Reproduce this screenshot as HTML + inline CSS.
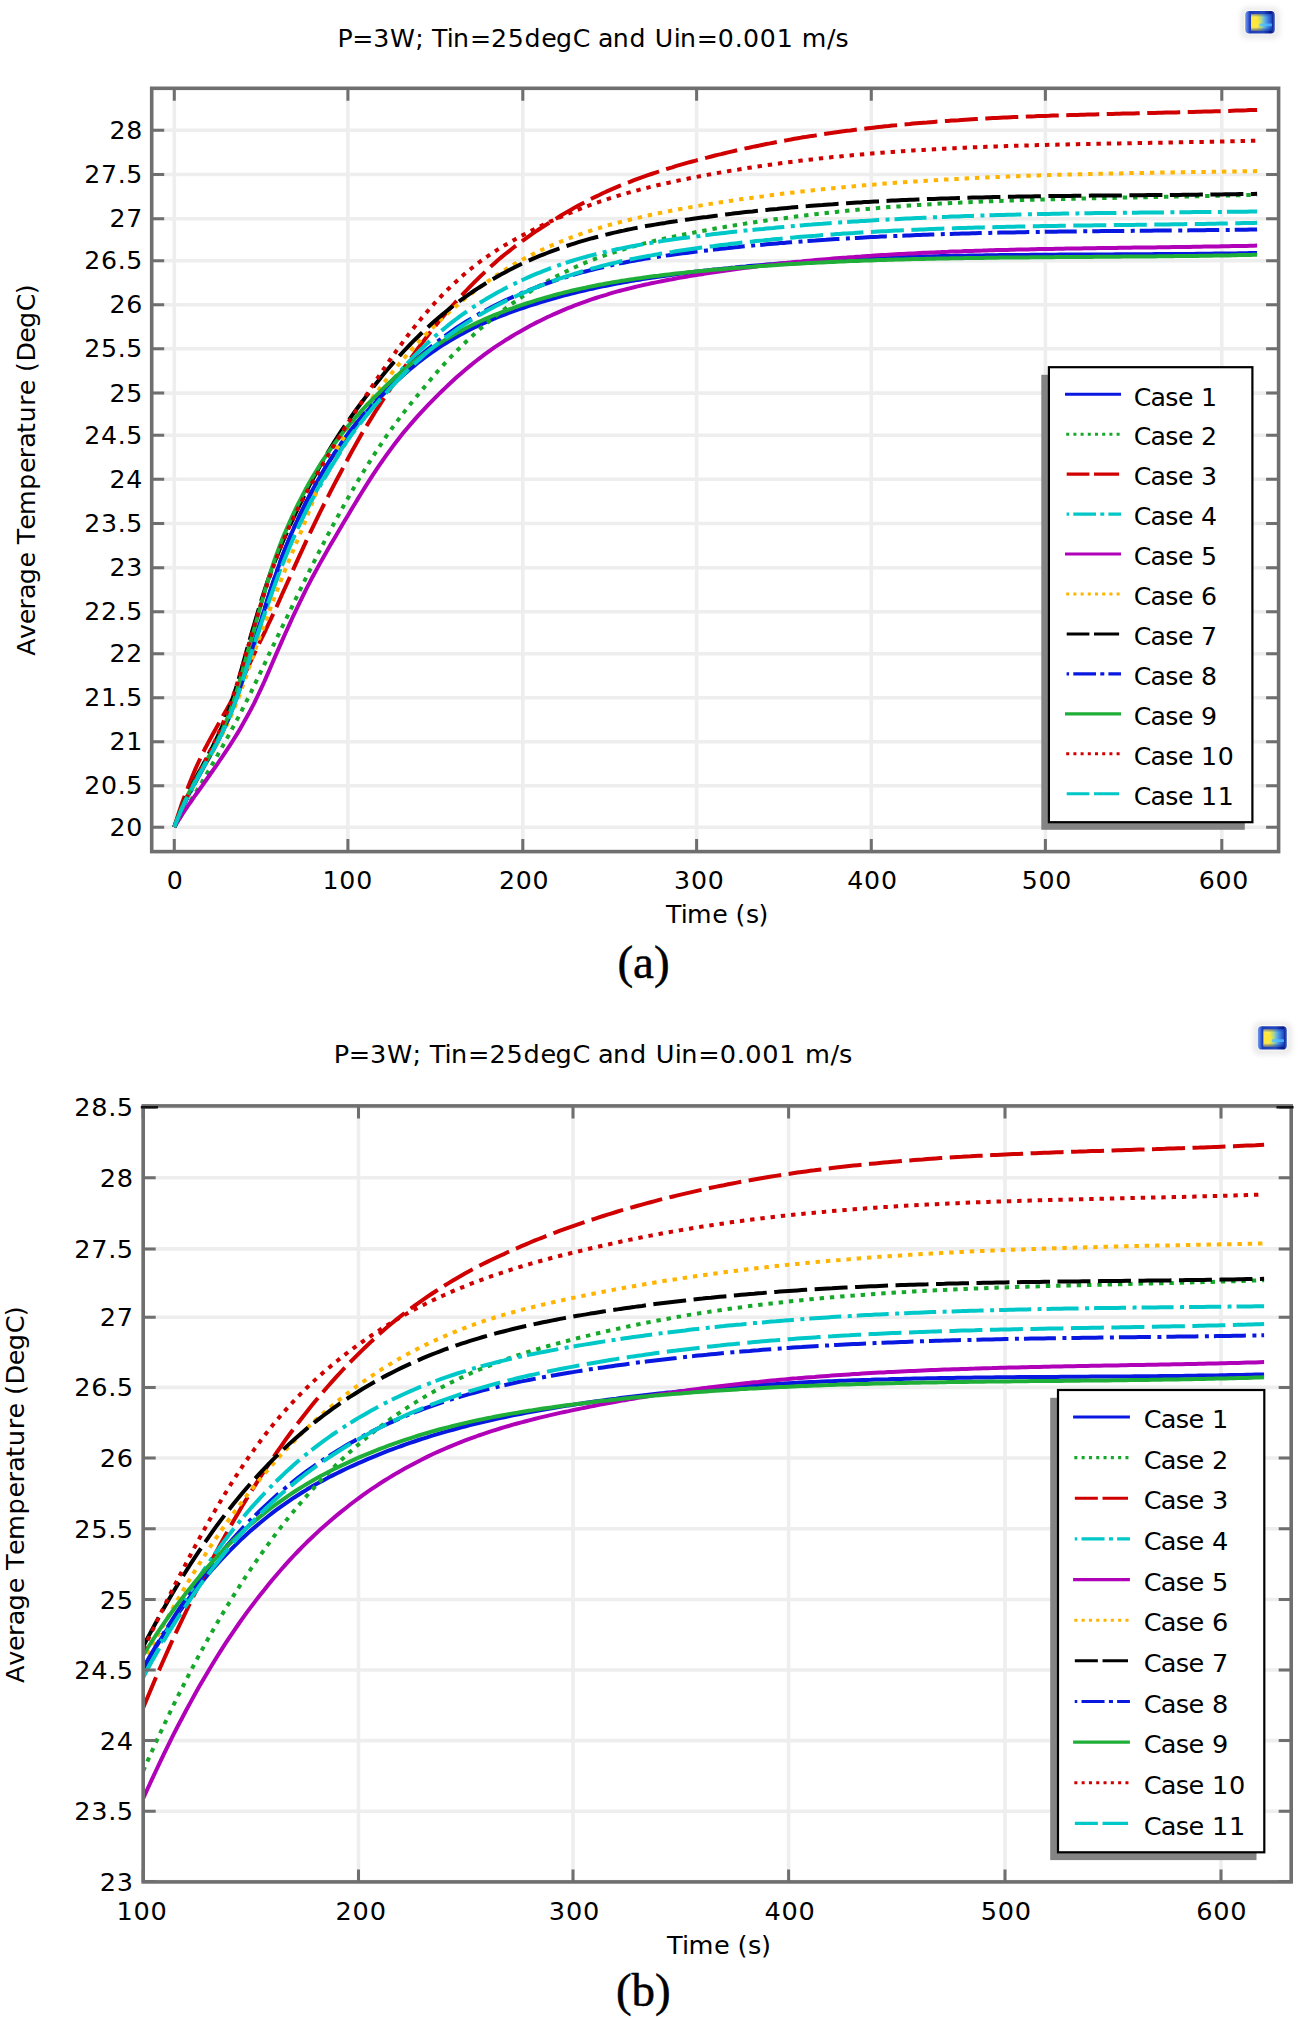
<!DOCTYPE html>
<html><head><meta charset="utf-8"><title>Average Temperature vs Time</title>
<style>html,body{margin:0;padding:0;background:#fff;overflow:hidden;}svg{display:block;}</style>
</head><body>
<svg width="1298" height="2019" viewBox="0 0 1298 2019">
<rect width="1298" height="2019" fill="#fff"/>
<clipPath id="clipa"><rect x="151.7" y="88.3" width="1126.8999999999999" height="763.3000000000001"/></clipPath>
<path d="M174.3 88.3 V851.6 M347.9 88.3 V851.6 M522.8 88.3 V851.6 M696.6 88.3 V851.6 M871.3 88.3 V851.6 M1045.4 88.3 V851.6 M1221.8 88.3 V851.6 M151.7 827.2 H1278.6 M151.7 785.7 H1278.6 M151.7 741.8 H1278.6 M151.7 697.8 H1278.6 M151.7 653.8 H1278.6 M151.7 611.7 H1278.6 M151.7 567.7 H1278.6 M151.7 523.5 H1278.6 M151.7 479.2 H1278.6 M151.7 435.3 H1278.6 M151.7 393.1 H1278.6 M151.7 348.8 H1278.6 M151.7 304.8 H1278.6 M151.7 260.8 H1278.6 M151.7 218.7 H1278.6 M151.7 174.5 H1278.6 M151.7 130.2 H1278.6" stroke="#eeeeee" stroke-width="3.6" fill="none"/>
<g clip-path="url(#clipa)" fill="none" stroke-width="4.0" stroke-linejoin="round">
<path d="M174.3 827.2 L177.8 818.4 L181.2 810.2 L184.7 802.6 L188.2 795.5 L191.7 788.9 L195.1 782.4 L198.6 776.0 L202.1 769.7 L205.5 763.6 L209.0 757.4 L212.5 751.2 L216.0 744.7 L219.4 738.0 L222.9 730.9 L226.4 723.4 L229.9 715.3 L233.3 706.6 L236.8 697.1 L240.3 686.9 L243.7 676.1 L247.2 664.8 L250.7 653.3 L254.2 642.3 L257.6 631.2 L261.1 620.2 L264.6 609.2 L268.0 598.0 L271.5 587.1 L275.0 576.6 L278.5 566.6 L281.9 557.1 L285.4 548.2 L288.9 539.7 L292.3 531.6 L295.8 523.8 L299.3 516.3 L302.8 509.1 L306.2 502.1 L309.7 495.3 L313.2 488.8 L316.7 482.5 L320.1 476.5 L323.6 470.6 L327.1 465.0 L330.5 459.5 L334.0 454.2 L337.5 449.0 L341.0 444.0 L344.4 439.1 L347.9 434.4 L351.4 430.0 L354.9 425.6 L358.4 421.4 L361.9 417.3 L365.4 413.3 L368.9 409.3 L372.4 405.5 L375.9 401.8 L379.4 398.2 L382.9 394.6 L386.4 391.1 L389.9 387.6 L393.4 384.2 L396.9 380.9 L400.4 377.7 L403.9 374.5 L407.4 371.5 L410.9 368.5 L414.4 365.6 L417.9 362.8 L421.4 360.1 L424.9 357.5 L428.4 354.9 L431.9 352.4 L435.3 350.0 L438.8 347.6 L442.3 345.4 L445.8 343.2 L449.3 341.1 L452.8 339.0 L456.3 337.0 L459.8 335.0 L463.3 333.2 L466.8 331.3 L470.3 329.5 L473.8 327.8 L477.3 326.1 L480.8 324.5 L484.3 322.9 L487.8 321.4 L491.3 319.9 L494.8 318.4 L498.3 317.0 L501.8 315.6 L505.3 314.3 L508.8 313.0 L512.3 311.7 L515.8 310.4 L519.3 309.2 L522.8 308.0 L526.3 306.8 L529.8 305.7 L533.2 304.6 L536.7 303.5 L540.2 302.4 L543.7 301.3 L547.1 300.3 L550.6 299.3 L554.1 298.3 L557.6 297.3 L561.0 296.3 L564.5 295.4 L568.0 294.5 L571.5 293.6 L574.9 292.7 L578.4 291.9 L581.9 291.1 L585.4 290.2 L588.8 289.4 L592.3 288.7 L595.8 287.9 L599.3 287.1 L602.7 286.4 L606.2 285.7 L609.7 285.0 L613.2 284.3 L616.7 283.6 L620.1 283.0 L623.6 282.3 L627.1 281.7 L630.6 281.1 L634.0 280.5 L637.5 279.9 L641.0 279.4 L644.5 278.8 L647.9 278.2 L651.4 277.7 L654.9 277.2 L658.4 276.7 L661.8 276.2 L665.3 275.7 L668.8 275.2 L672.3 274.7 L675.7 274.2 L679.2 273.8 L682.7 273.3 L686.2 272.9 L689.6 272.5 L693.1 272.0 L696.6 271.6 L700.1 271.2 L703.6 270.8 L707.1 270.4 L710.6 270.0 L714.1 269.6 L717.6 269.3 L721.1 268.9 L724.6 268.5 L728.0 268.2 L731.5 267.8 L735.0 267.5 L738.5 267.1 L742.0 266.8 L745.5 266.5 L749.0 266.1 L752.5 265.8 L756.0 265.5 L759.5 265.2 L763.0 264.9 L766.5 264.6 L770.0 264.3 L773.5 264.1 L777.0 263.8 L780.5 263.5 L784.0 263.2 L787.4 263.0 L790.9 262.7 L794.4 262.5 L797.9 262.2 L801.4 262.0 L804.9 261.8 L808.4 261.5 L811.9 261.3 L815.4 261.1 L818.9 260.9 L822.4 260.7 L825.9 260.5 L829.4 260.3 L832.9 260.1 L836.4 259.9 L839.9 259.7 L843.3 259.6 L846.8 259.4 L850.3 259.2 L853.8 259.1 L857.3 258.9 L860.8 258.7 L864.3 258.6 L867.8 258.4 L871.3 258.3 L874.8 258.2 L878.3 258.0 L881.7 257.9 L885.2 257.8 L888.7 257.6 L892.2 257.5 L895.7 257.4 L899.2 257.3 L902.6 257.2 L906.1 257.1 L909.6 257.0 L913.1 256.9 L916.6 256.8 L920.0 256.7 L923.5 256.6 L927.0 256.5 L930.5 256.4 L934.0 256.3 L937.5 256.2 L940.9 256.1 L944.4 256.1 L947.9 256.0 L951.4 255.9 L954.9 255.8 L958.4 255.8 L961.8 255.7 L965.3 255.7 L968.8 255.6 L972.3 255.5 L975.8 255.5 L979.2 255.4 L982.7 255.4 L986.2 255.3 L989.7 255.3 L993.2 255.2 L996.7 255.2 L1000.1 255.1 L1003.6 255.1 L1007.1 255.1 L1010.6 255.0 L1014.1 255.0 L1017.5 255.0 L1021.0 254.9 L1024.5 254.9 L1028.0 254.9 L1031.5 254.8 L1035.0 254.8 L1038.4 254.8 L1041.9 254.7 L1045.4 254.7 L1048.9 254.7 L1052.5 254.7 L1056.0 254.7 L1059.5 254.6 L1063.0 254.6 L1066.6 254.6 L1070.1 254.6 L1073.6 254.6 L1077.2 254.5 L1080.7 254.5 L1084.2 254.5 L1087.7 254.5 L1091.3 254.5 L1094.8 254.4 L1098.3 254.4 L1101.8 254.4 L1105.4 254.4 L1108.9 254.4 L1112.4 254.4 L1116.0 254.3 L1119.5 254.3 L1123.0 254.3 L1126.5 254.3 L1130.1 254.3 L1133.6 254.3 L1137.1 254.2 L1140.7 254.2 L1144.2 254.2 L1147.7 254.2 L1151.2 254.2 L1154.8 254.1 L1158.3 254.1 L1161.8 254.1 L1165.4 254.1 L1168.9 254.1 L1172.4 254.0 L1175.9 254.0 L1179.5 254.0 L1183.0 254.0 L1186.5 253.9 L1190.0 253.9 L1193.6 253.9 L1197.1 253.8 L1200.6 253.8 L1204.2 253.8 L1207.7 253.7 L1211.2 253.7 L1214.7 253.6 L1218.3 253.6 L1221.8 253.5 L1225.3 253.5 L1228.9 253.5 L1232.4 253.4 L1235.9 253.4 L1239.4 253.3 L1243.0 253.2 L1246.5 253.2 L1250.0 253.1 L1253.6 253.1 L1257.1 253.0" stroke="#0818e0"/>
<path d="M174.3 827.2 L177.8 821.5 L181.2 815.8 L184.7 810.2 L188.2 804.6 L191.7 799.0 L195.1 793.4 L198.6 787.8 L202.1 782.0 L205.5 776.0 L209.0 770.1 L212.5 764.0 L216.0 758.0 L219.4 751.9 L222.9 745.7 L226.4 739.4 L229.9 733.1 L233.3 726.6 L236.8 720.1 L240.3 713.5 L243.7 706.7 L247.2 699.8 L250.7 692.8 L254.2 685.7 L257.6 678.5 L261.1 671.2 L264.6 663.8 L268.0 656.3 L271.5 649.1 L275.0 641.9 L278.5 634.7 L281.9 627.5 L285.4 620.4 L288.9 613.3 L292.3 606.1 L295.8 598.8 L299.3 591.6 L302.8 584.5 L306.2 577.4 L309.7 570.4 L313.2 563.5 L316.7 556.6 L320.1 549.8 L323.6 543.1 L327.1 536.4 L330.5 529.9 L334.0 523.4 L337.5 517.0 L341.0 510.6 L344.4 504.3 L347.9 498.2 L351.4 492.1 L354.9 486.0 L358.4 480.1 L361.9 474.3 L365.4 468.6 L368.9 462.9 L372.4 457.4 L375.9 451.9 L379.4 446.6 L382.9 441.3 L386.4 436.1 L389.9 431.2 L393.4 426.3 L396.9 421.6 L400.4 417.0 L403.9 412.4 L407.4 407.9 L410.9 403.5 L414.4 399.2 L417.9 394.9 L421.4 390.7 L424.9 386.4 L428.4 382.2 L431.9 378.0 L435.3 374.0 L438.8 370.0 L442.3 366.1 L445.8 362.3 L449.3 358.6 L452.8 354.9 L456.3 351.3 L459.8 347.8 L463.3 344.4 L466.8 341.0 L470.3 337.8 L473.8 334.6 L477.3 331.4 L480.8 328.3 L484.3 325.3 L487.8 322.4 L491.3 319.5 L494.8 316.7 L498.3 313.9 L501.8 311.2 L505.3 308.6 L508.8 306.0 L512.3 303.5 L515.8 301.1 L519.3 298.7 L522.8 296.3 L526.3 294.0 L529.8 291.8 L533.2 289.6 L536.7 287.5 L540.2 285.4 L543.7 283.4 L547.1 281.4 L550.6 279.5 L554.1 277.6 L557.6 275.8 L561.0 274.0 L564.5 272.3 L568.0 270.6 L571.5 268.9 L574.9 267.3 L578.4 265.7 L581.9 264.2 L585.4 262.7 L588.8 261.3 L592.3 259.9 L595.8 258.6 L599.3 257.3 L602.7 256.1 L606.2 254.9 L609.7 253.7 L613.2 252.5 L616.7 251.4 L620.1 250.3 L623.6 249.3 L627.1 248.2 L630.6 247.2 L634.0 246.2 L637.5 245.3 L641.0 244.3 L644.5 243.4 L647.9 242.6 L651.4 241.7 L654.9 240.8 L658.4 240.0 L661.8 239.2 L665.3 238.4 L668.8 237.7 L672.3 236.9 L675.7 236.2 L679.2 235.4 L682.7 234.7 L686.2 234.0 L689.6 233.3 L693.1 232.7 L696.6 232.0 L700.1 231.3 L703.6 230.7 L707.1 230.1 L710.6 229.4 L714.1 228.8 L717.6 228.2 L721.1 227.6 L724.6 227.0 L728.0 226.4 L731.5 225.8 L735.0 225.3 L738.5 224.7 L742.0 224.2 L745.5 223.6 L749.0 223.1 L752.5 222.6 L756.0 222.0 L759.5 221.5 L763.0 221.0 L766.5 220.5 L770.0 220.1 L773.5 219.6 L777.0 219.1 L780.5 218.6 L784.0 218.2 L787.4 217.7 L790.9 217.2 L794.4 216.8 L797.9 216.3 L801.4 215.9 L804.9 215.5 L808.4 215.0 L811.9 214.6 L815.4 214.2 L818.9 213.8 L822.4 213.4 L825.9 213.0 L829.4 212.6 L832.9 212.3 L836.4 211.9 L839.9 211.5 L843.3 211.2 L846.8 210.8 L850.3 210.5 L853.8 210.2 L857.3 209.8 L860.8 209.5 L864.3 209.2 L867.8 208.9 L871.3 208.6 L874.8 208.3 L878.3 208.0 L881.7 207.7 L885.2 207.4 L888.7 207.1 L892.2 206.9 L895.7 206.6 L899.2 206.4 L902.6 206.1 L906.1 205.9 L909.6 205.6 L913.1 205.4 L916.6 205.1 L920.0 204.9 L923.5 204.7 L927.0 204.5 L930.5 204.3 L934.0 204.1 L937.5 203.8 L940.9 203.6 L944.4 203.5 L947.9 203.3 L951.4 203.1 L954.9 202.9 L958.4 202.7 L961.8 202.5 L965.3 202.4 L968.8 202.2 L972.3 202.0 L975.8 201.9 L979.2 201.7 L982.7 201.6 L986.2 201.4 L989.7 201.3 L993.2 201.2 L996.7 201.0 L1000.1 200.9 L1003.6 200.8 L1007.1 200.6 L1010.6 200.5 L1014.1 200.4 L1017.5 200.3 L1021.0 200.1 L1024.5 200.0 L1028.0 199.9 L1031.5 199.8 L1035.0 199.7 L1038.4 199.6 L1041.9 199.5 L1045.4 199.4 L1048.9 199.3 L1052.5 199.2 L1056.0 199.1 L1059.5 199.0 L1063.0 198.9 L1066.6 198.9 L1070.1 198.8 L1073.6 198.7 L1077.2 198.6 L1080.7 198.5 L1084.2 198.4 L1087.7 198.4 L1091.3 198.3 L1094.8 198.2 L1098.3 198.1 L1101.8 198.1 L1105.4 198.0 L1108.9 197.9 L1112.4 197.9 L1116.0 197.8 L1119.5 197.7 L1123.0 197.6 L1126.5 197.6 L1130.1 197.5 L1133.6 197.4 L1137.1 197.4 L1140.7 197.3 L1144.2 197.2 L1147.7 197.2 L1151.2 197.1 L1154.8 197.0 L1158.3 197.0 L1161.8 196.9 L1165.4 196.8 L1168.9 196.8 L1172.4 196.7 L1175.9 196.6 L1179.5 196.6 L1183.0 196.5 L1186.5 196.4 L1190.0 196.4 L1193.6 196.3 L1197.1 196.2 L1200.6 196.1 L1204.2 196.1 L1207.7 196.0 L1211.2 195.9 L1214.7 195.8 L1218.3 195.7 L1221.8 195.7 L1225.3 195.6 L1228.9 195.5 L1232.4 195.4 L1235.9 195.3 L1239.4 195.2 L1243.0 195.1 L1246.5 195.0 L1250.0 194.9 L1253.6 194.8 L1257.1 194.7" stroke="#16a82a" stroke-dasharray="4.4 5.9"/>
<path d="M174.3 827.2 L177.8 815.9 L181.2 805.5 L184.7 795.8 L188.2 786.8 L191.7 778.0 L195.1 769.7 L198.6 762.0 L202.1 754.6 L205.5 747.7 L209.0 741.1 L212.5 734.7 L216.0 728.4 L219.4 722.3 L222.9 716.1 L226.4 709.9 L229.9 703.6 L233.3 697.1 L236.8 690.3 L240.3 683.3 L243.7 676.2 L247.2 668.9 L250.7 661.4 L254.2 654.0 L257.6 646.8 L261.1 639.5 L264.6 632.3 L268.0 625.0 L271.5 617.7 L275.0 610.2 L278.5 602.5 L281.9 594.8 L285.4 587.0 L288.9 579.3 L292.3 571.6 L295.8 563.9 L299.3 556.2 L302.8 548.6 L306.2 541.1 L309.7 533.7 L313.2 526.4 L316.7 519.2 L320.1 512.2 L323.6 505.2 L327.1 498.4 L330.5 491.6 L334.0 484.9 L337.5 478.3 L341.0 471.7 L344.4 465.2 L347.9 458.7 L351.4 452.3 L354.9 446.0 L358.4 439.7 L361.9 433.6 L365.4 427.8 L368.9 422.1 L372.4 416.4 L375.9 410.8 L379.4 405.4 L382.9 400.0 L386.4 394.7 L389.9 389.3 L393.4 383.9 L396.9 378.6 L400.4 373.3 L403.9 368.2 L407.4 363.2 L410.9 358.2 L414.4 353.3 L417.9 348.5 L421.4 343.9 L424.9 339.3 L428.4 334.7 L431.9 330.3 L435.3 325.9 L438.8 321.6 L442.3 317.4 L445.8 313.3 L449.3 309.2 L452.8 305.3 L456.3 301.3 L459.8 297.5 L463.3 293.7 L466.8 290.0 L470.3 286.4 L473.8 282.8 L477.3 279.4 L480.8 275.9 L484.3 272.6 L487.8 269.3 L491.3 266.0 L494.8 262.9 L498.3 259.8 L501.8 256.9 L505.3 254.0 L508.8 251.3 L512.3 248.5 L515.8 245.8 L519.3 243.2 L522.8 240.6 L526.3 238.1 L529.8 235.6 L533.2 233.2 L536.7 230.9 L540.2 228.5 L543.7 226.3 L547.1 224.1 L550.6 221.9 L554.1 219.8 L557.6 217.7 L561.0 215.5 L564.5 213.4 L568.0 211.4 L571.5 209.4 L574.9 207.4 L578.4 205.5 L581.9 203.7 L585.4 201.9 L588.8 200.1 L592.3 198.3 L595.8 196.6 L599.3 195.0 L602.7 193.3 L606.2 191.7 L609.7 190.2 L613.2 188.7 L616.7 187.2 L620.1 185.7 L623.6 184.3 L627.1 182.9 L630.6 181.6 L634.0 180.2 L637.5 178.9 L641.0 177.6 L644.5 176.4 L647.9 175.2 L651.4 174.0 L654.9 172.8 L658.4 171.7 L661.8 170.5 L665.3 169.4 L668.8 168.3 L672.3 167.3 L675.7 166.2 L679.2 165.2 L682.7 164.2 L686.2 163.2 L689.6 162.2 L693.1 161.3 L696.6 160.3 L700.1 159.4 L703.6 158.5 L707.1 157.6 L710.6 156.7 L714.1 155.8 L717.6 154.9 L721.1 154.1 L724.6 153.2 L728.0 152.4 L731.5 151.6 L735.0 150.8 L738.5 150.0 L742.0 149.2 L745.5 148.4 L749.0 147.7 L752.5 146.9 L756.0 146.2 L759.5 145.5 L763.0 144.7 L766.5 144.0 L770.0 143.4 L773.5 142.7 L777.0 142.0 L780.5 141.4 L784.0 140.7 L787.4 140.1 L790.9 139.5 L794.4 138.8 L797.9 138.2 L801.4 137.6 L804.9 137.1 L808.4 136.5 L811.9 135.9 L815.4 135.4 L818.9 134.8 L822.4 134.3 L825.9 133.8 L829.4 133.3 L832.9 132.8 L836.4 132.3 L839.9 131.8 L843.3 131.3 L846.8 130.8 L850.3 130.4 L853.8 129.9 L857.3 129.5 L860.8 129.1 L864.3 128.7 L867.8 128.3 L871.3 127.9 L874.8 127.5 L878.3 127.1 L881.7 126.7 L885.2 126.3 L888.7 126.0 L892.2 125.6 L895.7 125.3 L899.2 124.9 L902.6 124.6 L906.1 124.3 L909.6 124.0 L913.1 123.6 L916.6 123.3 L920.0 123.0 L923.5 122.7 L927.0 122.5 L930.5 122.2 L934.0 121.9 L937.5 121.6 L940.9 121.4 L944.4 121.1 L947.9 120.9 L951.4 120.6 L954.9 120.4 L958.4 120.2 L961.8 119.9 L965.3 119.7 L968.8 119.5 L972.3 119.3 L975.8 119.1 L979.2 118.9 L982.7 118.7 L986.2 118.5 L989.7 118.3 L993.2 118.1 L996.7 118.0 L1000.1 117.8 L1003.6 117.6 L1007.1 117.5 L1010.6 117.3 L1014.1 117.1 L1017.5 117.0 L1021.0 116.8 L1024.5 116.7 L1028.0 116.5 L1031.5 116.4 L1035.0 116.3 L1038.4 116.1 L1041.9 116.0 L1045.4 115.9 L1048.9 115.8 L1052.5 115.6 L1056.0 115.5 L1059.5 115.4 L1063.0 115.3 L1066.6 115.2 L1070.1 115.1 L1073.6 115.0 L1077.2 114.9 L1080.7 114.8 L1084.2 114.7 L1087.7 114.6 L1091.3 114.5 L1094.8 114.4 L1098.3 114.3 L1101.8 114.2 L1105.4 114.1 L1108.9 114.0 L1112.4 113.9 L1116.0 113.8 L1119.5 113.7 L1123.0 113.6 L1126.5 113.6 L1130.1 113.5 L1133.6 113.4 L1137.1 113.3 L1140.7 113.2 L1144.2 113.1 L1147.7 113.0 L1151.2 113.0 L1154.8 112.9 L1158.3 112.8 L1161.8 112.7 L1165.4 112.6 L1168.9 112.5 L1172.4 112.4 L1175.9 112.4 L1179.5 112.3 L1183.0 112.2 L1186.5 112.1 L1190.0 112.0 L1193.6 111.9 L1197.1 111.8 L1200.6 111.7 L1204.2 111.6 L1207.7 111.5 L1211.2 111.4 L1214.7 111.3 L1218.3 111.2 L1221.8 111.1 L1225.3 111.0 L1228.9 110.9 L1232.4 110.7 L1235.9 110.6 L1239.4 110.5 L1243.0 110.4 L1246.5 110.3 L1250.0 110.1 L1253.6 110.0 L1257.1 109.9" stroke="#d00000" stroke-dasharray="33 7.5"/>
<path d="M174.3 827.2 L177.8 818.7 L181.2 810.7 L184.7 803.3 L188.2 796.2 L191.7 789.6 L195.1 783.0 L198.6 776.4 L202.1 770.0 L205.5 763.7 L209.0 757.3 L212.5 750.9 L216.0 744.3 L219.4 737.5 L222.9 730.4 L226.4 722.9 L229.9 715.0 L233.3 706.6 L236.8 697.5 L240.3 687.8 L243.7 677.6 L247.2 666.9 L250.7 656.0 L254.2 645.4 L257.6 634.9 L261.1 624.4 L264.6 614.1 L268.0 603.7 L271.5 593.5 L275.0 583.6 L278.5 574.1 L281.9 564.8 L285.4 556.0 L288.9 547.5 L292.3 539.3 L295.8 531.6 L299.3 524.2 L302.8 517.2 L306.2 510.4 L309.7 504.0 L313.2 497.8 L316.7 491.7 L320.1 485.7 L323.6 479.8 L327.1 473.9 L330.5 468.1 L334.0 462.3 L337.5 456.6 L341.0 450.9 L344.4 445.2 L347.9 439.7 L351.4 434.3 L354.9 429.2 L358.4 424.2 L361.9 419.3 L365.4 414.5 L368.9 409.8 L372.4 405.2 L375.9 400.7 L379.4 396.3 L382.9 392.0 L386.4 387.6 L389.9 383.3 L393.4 379.1 L396.9 375.0 L400.4 371.0 L403.9 367.1 L407.4 363.3 L410.9 359.6 L414.4 356.0 L417.9 352.4 L421.4 349.0 L424.9 345.6 L428.4 342.3 L431.9 339.2 L435.3 336.1 L438.8 333.0 L442.3 330.1 L445.8 327.2 L449.3 324.4 L452.8 321.7 L456.3 319.0 L459.8 316.4 L463.3 313.9 L466.8 311.5 L470.3 309.1 L473.8 306.7 L477.3 304.5 L480.8 302.3 L484.3 300.1 L487.8 298.0 L491.3 296.0 L494.8 294.0 L498.3 292.0 L501.8 290.2 L505.3 288.3 L508.8 286.5 L512.3 284.8 L515.8 283.1 L519.3 281.4 L522.8 279.8 L526.3 278.2 L529.8 276.7 L533.2 275.2 L536.7 273.7 L540.2 272.3 L543.7 270.9 L547.1 269.6 L550.6 268.2 L554.1 267.0 L557.6 265.7 L561.0 264.5 L564.5 263.3 L568.0 262.1 L571.5 261.0 L574.9 259.9 L578.4 258.9 L581.9 257.9 L585.4 257.0 L588.8 256.0 L592.3 255.1 L595.8 254.2 L599.3 253.3 L602.7 252.5 L606.2 251.7 L609.7 250.9 L613.2 250.1 L616.7 249.3 L620.1 248.6 L623.6 247.9 L627.1 247.2 L630.6 246.5 L634.0 245.9 L637.5 245.2 L641.0 244.6 L644.5 244.0 L647.9 243.4 L651.4 242.8 L654.9 242.2 L658.4 241.7 L661.8 241.1 L665.3 240.6 L668.8 240.1 L672.3 239.6 L675.7 239.1 L679.2 238.6 L682.7 238.1 L686.2 237.7 L689.6 237.2 L693.1 236.7 L696.6 236.3 L700.1 235.9 L703.6 235.4 L707.1 235.0 L710.6 234.6 L714.1 234.1 L717.6 233.7 L721.1 233.3 L724.6 232.9 L728.0 232.5 L731.5 232.1 L735.0 231.7 L738.5 231.4 L742.0 231.0 L745.5 230.6 L749.0 230.3 L752.5 229.9 L756.0 229.5 L759.5 229.2 L763.0 228.9 L766.5 228.5 L770.0 228.2 L773.5 227.9 L777.0 227.5 L780.5 227.2 L784.0 226.9 L787.4 226.6 L790.9 226.3 L794.4 226.0 L797.9 225.7 L801.4 225.4 L804.9 225.1 L808.4 224.8 L811.9 224.6 L815.4 224.3 L818.9 224.0 L822.4 223.8 L825.9 223.5 L829.4 223.2 L832.9 223.0 L836.4 222.7 L839.9 222.5 L843.3 222.3 L846.8 222.0 L850.3 221.8 L853.8 221.6 L857.3 221.4 L860.8 221.1 L864.3 220.9 L867.8 220.7 L871.3 220.5 L874.8 220.3 L878.3 220.1 L881.7 219.9 L885.2 219.7 L888.7 219.5 L892.2 219.3 L895.7 219.2 L899.2 219.0 L902.6 218.8 L906.1 218.6 L909.6 218.5 L913.1 218.3 L916.6 218.1 L920.0 218.0 L923.5 217.8 L927.0 217.6 L930.5 217.5 L934.0 217.3 L937.5 217.2 L940.9 217.0 L944.4 216.9 L947.9 216.8 L951.4 216.6 L954.9 216.5 L958.4 216.4 L961.8 216.2 L965.3 216.1 L968.8 216.0 L972.3 215.9 L975.8 215.8 L979.2 215.6 L982.7 215.5 L986.2 215.4 L989.7 215.3 L993.2 215.2 L996.7 215.1 L1000.1 215.0 L1003.6 214.9 L1007.1 214.8 L1010.6 214.7 L1014.1 214.7 L1017.5 214.6 L1021.0 214.5 L1024.5 214.4 L1028.0 214.3 L1031.5 214.2 L1035.0 214.2 L1038.4 214.1 L1041.9 214.0 L1045.4 214.0 L1048.9 213.9 L1052.5 213.8 L1056.0 213.8 L1059.5 213.7 L1063.0 213.6 L1066.6 213.6 L1070.1 213.5 L1073.6 213.5 L1077.2 213.4 L1080.7 213.3 L1084.2 213.3 L1087.7 213.2 L1091.3 213.2 L1094.8 213.1 L1098.3 213.1 L1101.8 213.1 L1105.4 213.0 L1108.9 213.0 L1112.4 212.9 L1116.0 212.9 L1119.5 212.8 L1123.0 212.8 L1126.5 212.8 L1130.1 212.7 L1133.6 212.7 L1137.1 212.7 L1140.7 212.6 L1144.2 212.6 L1147.7 212.5 L1151.2 212.5 L1154.8 212.5 L1158.3 212.4 L1161.8 212.4 L1165.4 212.4 L1168.9 212.4 L1172.4 212.3 L1175.9 212.3 L1179.5 212.3 L1183.0 212.2 L1186.5 212.2 L1190.0 212.2 L1193.6 212.1 L1197.1 212.1 L1200.6 212.1 L1204.2 212.1 L1207.7 212.0 L1211.2 212.0 L1214.7 212.0 L1218.3 211.9 L1221.8 211.9 L1225.3 211.9 L1228.9 211.8 L1232.4 211.8 L1235.9 211.8 L1239.4 211.7 L1243.0 211.7 L1246.5 211.7 L1250.0 211.6 L1253.6 211.6 L1257.1 211.6" stroke="#00c8c8" stroke-dasharray="32 6.5 4 5"/>
<path d="M174.3 827.2 L177.8 821.5 L181.2 816.0 L184.7 810.7 L188.2 805.5 L191.7 800.5 L195.1 795.5 L198.6 790.7 L202.1 785.9 L205.5 781.0 L209.0 776.0 L212.5 771.0 L216.0 766.1 L219.4 761.0 L222.9 755.9 L226.4 750.7 L229.9 745.4 L233.3 740.0 L236.8 734.4 L240.3 728.6 L243.7 722.6 L247.2 716.3 L250.7 709.9 L254.2 703.1 L257.6 696.0 L261.1 688.6 L264.6 681.0 L268.0 673.1 L271.5 665.0 L275.0 656.9 L278.5 648.9 L281.9 641.1 L285.4 633.3 L288.9 625.6 L292.3 618.0 L295.8 610.7 L299.3 603.3 L302.8 596.1 L306.2 589.1 L309.7 582.4 L313.2 575.8 L316.7 569.4 L320.1 563.1 L323.6 556.9 L327.1 550.8 L330.5 544.8 L334.0 538.9 L337.5 533.0 L341.0 527.1 L344.4 521.3 L347.9 515.4 L351.4 509.5 L354.9 503.7 L358.4 497.9 L361.9 492.2 L365.4 486.6 L368.9 481.1 L372.4 475.7 L375.9 470.4 L379.4 465.2 L382.9 460.2 L386.4 455.2 L389.9 450.4 L393.4 445.6 L396.9 441.0 L400.4 436.5 L403.9 432.1 L407.4 428.0 L410.9 423.9 L414.4 419.9 L417.9 415.9 L421.4 412.1 L424.9 408.4 L428.4 404.7 L431.9 401.1 L435.3 397.7 L438.8 394.2 L442.3 390.8 L445.8 387.4 L449.3 384.0 L452.8 380.8 L456.3 377.6 L459.8 374.5 L463.3 371.5 L466.8 368.5 L470.3 365.6 L473.8 362.8 L477.3 360.0 L480.8 357.3 L484.3 354.7 L487.8 352.2 L491.3 349.7 L494.8 347.2 L498.3 344.9 L501.8 342.6 L505.3 340.3 L508.8 338.2 L512.3 336.0 L515.8 333.9 L519.3 331.9 L522.8 329.9 L526.3 328.0 L529.8 326.1 L533.2 324.2 L536.7 322.4 L540.2 320.7 L543.7 319.0 L547.1 317.3 L550.6 315.7 L554.1 314.1 L557.6 312.6 L561.0 311.1 L564.5 309.6 L568.0 308.2 L571.5 306.8 L574.9 305.4 L578.4 304.1 L581.9 302.8 L585.4 301.6 L588.8 300.4 L592.3 299.2 L595.8 298.0 L599.3 296.9 L602.7 295.8 L606.2 294.8 L609.7 293.7 L613.2 292.7 L616.7 291.7 L620.1 290.8 L623.6 289.9 L627.1 289.0 L630.6 288.1 L634.0 287.3 L637.5 286.4 L641.0 285.6 L644.5 284.8 L647.9 284.1 L651.4 283.3 L654.9 282.6 L658.4 281.9 L661.8 281.2 L665.3 280.5 L668.8 279.8 L672.3 279.2 L675.7 278.5 L679.2 277.9 L682.7 277.3 L686.2 276.7 L689.6 276.1 L693.1 275.5 L696.6 275.0 L700.1 274.4 L703.6 273.9 L707.1 273.3 L710.6 272.8 L714.1 272.2 L717.6 271.7 L721.1 271.2 L724.6 270.7 L728.0 270.2 L731.5 269.7 L735.0 269.2 L738.5 268.8 L742.0 268.3 L745.5 267.8 L749.0 267.4 L752.5 266.9 L756.0 266.5 L759.5 266.1 L763.0 265.6 L766.5 265.2 L770.0 264.8 L773.5 264.4 L777.0 264.0 L780.5 263.6 L784.0 263.2 L787.4 262.8 L790.9 262.5 L794.4 262.1 L797.9 261.7 L801.4 261.4 L804.9 261.0 L808.4 260.7 L811.9 260.4 L815.4 260.1 L818.9 259.8 L822.4 259.5 L825.9 259.2 L829.4 258.9 L832.9 258.6 L836.4 258.3 L839.9 258.0 L843.3 257.7 L846.8 257.5 L850.3 257.2 L853.8 257.0 L857.3 256.7 L860.8 256.5 L864.3 256.2 L867.8 256.0 L871.3 255.8 L874.8 255.5 L878.3 255.3 L881.7 255.1 L885.2 254.9 L888.7 254.7 L892.2 254.5 L895.7 254.3 L899.2 254.1 L902.6 253.9 L906.1 253.7 L909.6 253.5 L913.1 253.4 L916.6 253.2 L920.0 253.0 L923.5 252.8 L927.0 252.7 L930.5 252.5 L934.0 252.4 L937.5 252.2 L940.9 252.1 L944.4 251.9 L947.9 251.8 L951.4 251.6 L954.9 251.5 L958.4 251.4 L961.8 251.3 L965.3 251.1 L968.8 251.0 L972.3 250.9 L975.8 250.8 L979.2 250.7 L982.7 250.6 L986.2 250.4 L989.7 250.3 L993.2 250.2 L996.7 250.1 L1000.1 250.0 L1003.6 249.9 L1007.1 249.9 L1010.6 249.8 L1014.1 249.7 L1017.5 249.6 L1021.0 249.5 L1024.5 249.4 L1028.0 249.4 L1031.5 249.3 L1035.0 249.2 L1038.4 249.1 L1041.9 249.1 L1045.4 249.0 L1048.9 248.9 L1052.5 248.9 L1056.0 248.8 L1059.5 248.7 L1063.0 248.7 L1066.6 248.6 L1070.1 248.5 L1073.6 248.5 L1077.2 248.4 L1080.7 248.4 L1084.2 248.3 L1087.7 248.3 L1091.3 248.2 L1094.8 248.2 L1098.3 248.1 L1101.8 248.1 L1105.4 248.0 L1108.9 248.0 L1112.4 247.9 L1116.0 247.9 L1119.5 247.8 L1123.0 247.8 L1126.5 247.7 L1130.1 247.7 L1133.6 247.6 L1137.1 247.6 L1140.7 247.5 L1144.2 247.5 L1147.7 247.4 L1151.2 247.4 L1154.8 247.4 L1158.3 247.3 L1161.8 247.3 L1165.4 247.2 L1168.9 247.2 L1172.4 247.1 L1175.9 247.1 L1179.5 247.0 L1183.0 247.0 L1186.5 246.9 L1190.0 246.9 L1193.6 246.8 L1197.1 246.8 L1200.6 246.7 L1204.2 246.6 L1207.7 246.6 L1211.2 246.5 L1214.7 246.5 L1218.3 246.4 L1221.8 246.3 L1225.3 246.3 L1228.9 246.2 L1232.4 246.1 L1235.9 246.1 L1239.4 246.0 L1243.0 245.9 L1246.5 245.9 L1250.0 245.8 L1253.6 245.7 L1257.1 245.6" stroke="#b000b8"/>
<path d="M174.3 827.2 L177.8 818.5 L181.2 810.4 L184.7 802.9 L188.2 795.9 L191.7 789.3 L195.1 782.8 L198.6 776.5 L202.1 770.3 L205.5 764.3 L209.0 758.2 L212.5 752.2 L216.0 746.0 L219.4 739.7 L222.9 733.0 L226.4 726.0 L229.9 718.6 L233.3 710.7 L236.8 702.1 L240.3 692.9 L243.7 683.2 L247.2 673.0 L250.7 662.7 L254.2 652.4 L257.6 642.8 L261.1 633.3 L264.6 624.0 L268.0 614.8 L271.5 605.5 L275.0 596.1 L278.5 586.9 L281.9 578.0 L285.4 569.3 L288.9 560.8 L292.3 552.5 L295.8 544.2 L299.3 535.9 L302.8 527.4 L306.2 518.6 L309.7 509.4 L313.2 500.2 L316.7 491.1 L320.1 482.5 L323.6 474.5 L327.1 467.1 L330.5 460.3 L334.0 453.9 L337.5 447.9 L341.0 442.2 L344.4 436.7 L347.9 431.5 L351.4 426.5 L354.9 421.5 L358.4 416.6 L361.9 411.8 L365.4 407.0 L368.9 402.4 L372.4 397.8 L375.9 393.3 L379.4 388.6 L382.9 384.1 L386.4 379.6 L389.9 375.2 L393.4 370.9 L396.9 366.6 L400.4 362.5 L403.9 358.4 L407.4 354.4 L410.9 350.4 L414.4 346.6 L417.9 342.8 L421.4 339.1 L424.9 335.5 L428.4 331.9 L431.9 328.4 L435.3 325.0 L438.8 321.6 L442.3 318.3 L445.8 315.1 L449.3 312.0 L452.8 308.9 L456.3 305.9 L459.8 302.9 L463.3 300.0 L466.8 297.1 L470.3 294.4 L473.8 291.6 L477.3 289.0 L480.8 286.4 L484.3 283.8 L487.8 281.3 L491.3 278.9 L494.8 276.5 L498.3 274.2 L501.8 271.9 L505.3 269.7 L508.8 267.5 L512.3 265.4 L515.8 263.3 L519.3 261.3 L522.8 259.4 L526.3 257.6 L529.8 255.8 L533.2 254.0 L536.7 252.3 L540.2 250.6 L543.7 249.0 L547.1 247.4 L550.6 245.9 L554.1 244.4 L557.6 242.9 L561.0 241.5 L564.5 240.1 L568.0 238.7 L571.5 237.4 L574.9 236.1 L578.4 234.8 L581.9 233.6 L585.4 232.4 L588.8 231.3 L592.3 230.1 L595.8 229.0 L599.3 228.0 L602.7 226.9 L606.2 225.9 L609.7 224.9 L613.2 224.0 L616.7 223.0 L620.1 222.1 L623.6 221.2 L627.1 220.4 L630.6 219.5 L634.0 218.7 L637.5 217.9 L641.0 217.1 L644.5 216.3 L647.9 215.5 L651.4 214.7 L654.9 214.0 L658.4 213.3 L661.8 212.6 L665.3 211.9 L668.8 211.2 L672.3 210.5 L675.7 209.9 L679.2 209.2 L682.7 208.6 L686.2 208.0 L689.6 207.4 L693.1 206.8 L696.6 206.2 L700.1 205.6 L703.6 205.0 L707.1 204.5 L710.6 203.9 L714.1 203.3 L717.6 202.8 L721.1 202.2 L724.6 201.7 L728.0 201.2 L731.5 200.7 L735.0 200.1 L738.5 199.6 L742.0 199.1 L745.5 198.6 L749.0 198.2 L752.5 197.7 L756.0 197.2 L759.5 196.7 L763.0 196.3 L766.5 195.8 L770.0 195.3 L773.5 194.9 L777.0 194.5 L780.5 194.0 L784.0 193.6 L787.4 193.2 L790.9 192.8 L794.4 192.4 L797.9 192.0 L801.4 191.6 L804.9 191.2 L808.4 190.8 L811.9 190.4 L815.4 190.0 L818.9 189.7 L822.4 189.3 L825.9 188.9 L829.4 188.6 L832.9 188.2 L836.4 187.9 L839.9 187.6 L843.3 187.2 L846.8 186.9 L850.3 186.6 L853.8 186.3 L857.3 185.9 L860.8 185.6 L864.3 185.3 L867.8 185.0 L871.3 184.7 L874.8 184.5 L878.3 184.2 L881.7 183.9 L885.2 183.6 L888.7 183.4 L892.2 183.1 L895.7 182.8 L899.2 182.6 L902.6 182.3 L906.1 182.1 L909.6 181.8 L913.1 181.6 L916.6 181.4 L920.0 181.1 L923.5 180.9 L927.0 180.7 L930.5 180.5 L934.0 180.3 L937.5 180.1 L940.9 179.8 L944.4 179.6 L947.9 179.4 L951.4 179.3 L954.9 179.1 L958.4 178.9 L961.8 178.7 L965.3 178.5 L968.8 178.3 L972.3 178.2 L975.8 178.0 L979.2 177.8 L982.7 177.7 L986.2 177.5 L989.7 177.3 L993.2 177.2 L996.7 177.0 L1000.1 176.9 L1003.6 176.7 L1007.1 176.6 L1010.6 176.5 L1014.1 176.3 L1017.5 176.2 L1021.0 176.1 L1024.5 175.9 L1028.0 175.8 L1031.5 175.7 L1035.0 175.6 L1038.4 175.5 L1041.9 175.3 L1045.4 175.2 L1048.9 175.1 L1052.5 175.0 L1056.0 174.9 L1059.5 174.8 L1063.0 174.7 L1066.6 174.6 L1070.1 174.5 L1073.6 174.4 L1077.2 174.3 L1080.7 174.2 L1084.2 174.1 L1087.7 174.1 L1091.3 174.0 L1094.8 173.9 L1098.3 173.8 L1101.8 173.7 L1105.4 173.7 L1108.9 173.6 L1112.4 173.5 L1116.0 173.4 L1119.5 173.4 L1123.0 173.3 L1126.5 173.2 L1130.1 173.1 L1133.6 173.1 L1137.1 173.0 L1140.7 172.9 L1144.2 172.9 L1147.7 172.8 L1151.2 172.8 L1154.8 172.7 L1158.3 172.6 L1161.8 172.6 L1165.4 172.5 L1168.9 172.5 L1172.4 172.4 L1175.9 172.3 L1179.5 172.3 L1183.0 172.2 L1186.5 172.2 L1190.0 172.1 L1193.6 172.1 L1197.1 172.0 L1200.6 172.0 L1204.2 171.9 L1207.7 171.9 L1211.2 171.8 L1214.7 171.8 L1218.3 171.7 L1221.8 171.7 L1225.3 171.6 L1228.9 171.5 L1232.4 171.5 L1235.9 171.4 L1239.4 171.4 L1243.0 171.3 L1246.5 171.3 L1250.0 171.2 L1253.6 171.2 L1257.1 171.1" stroke="#ffb400" stroke-dasharray="4.4 5.9"/>
<path d="M174.3 827.2 L177.8 817.6 L181.2 808.8 L184.7 800.7 L188.2 793.3 L191.7 786.3 L195.1 779.4 L198.6 772.8 L202.1 766.4 L205.5 760.0 L209.0 753.5 L212.5 746.9 L216.0 739.9 L219.4 732.6 L222.9 724.7 L226.4 716.2 L229.9 706.8 L233.3 696.7 L236.8 685.5 L240.3 673.6 L243.7 661.2 L247.2 648.6 L250.7 636.4 L254.2 624.3 L257.6 612.7 L261.1 601.1 L264.6 590.2 L268.0 580.0 L271.5 570.2 L275.0 561.0 L278.5 552.2 L281.9 543.8 L285.4 535.7 L288.9 527.8 L292.3 520.3 L295.8 512.8 L299.3 505.6 L302.8 498.5 L306.2 491.7 L309.7 484.9 L313.2 478.4 L316.7 472.0 L320.1 465.8 L323.6 459.8 L327.1 453.8 L330.5 448.0 L334.0 442.3 L337.5 436.8 L341.0 431.4 L344.4 426.3 L347.9 421.2 L351.4 416.3 L354.9 411.4 L358.4 406.7 L361.9 402.0 L365.4 397.4 L368.9 393.0 L372.4 388.3 L375.9 383.8 L379.4 379.4 L382.9 375.1 L386.4 370.8 L389.9 366.7 L393.4 362.6 L396.9 358.7 L400.4 354.8 L403.9 351.0 L407.4 347.3 L410.9 343.6 L414.4 340.1 L417.9 336.7 L421.4 333.3 L424.9 330.0 L428.4 326.8 L431.9 323.6 L435.3 320.5 L438.8 317.5 L442.3 314.6 L445.8 311.7 L449.3 308.9 L452.8 306.2 L456.3 303.5 L459.8 300.9 L463.3 298.3 L466.8 295.8 L470.3 293.4 L473.8 291.0 L477.3 288.7 L480.8 286.5 L484.3 284.3 L487.8 282.1 L491.3 280.0 L494.8 278.0 L498.3 276.0 L501.8 274.1 L505.3 272.2 L508.8 270.3 L512.3 268.5 L515.8 266.7 L519.3 265.0 L522.8 263.3 L526.3 261.7 L529.8 260.1 L533.2 258.6 L536.7 257.2 L540.2 255.7 L543.7 254.3 L547.1 253.0 L550.6 251.7 L554.1 250.4 L557.6 249.1 L561.0 247.9 L564.5 246.7 L568.0 245.5 L571.5 244.4 L574.9 243.3 L578.4 242.2 L581.9 241.2 L585.4 240.2 L588.8 239.2 L592.3 238.2 L595.8 237.3 L599.3 236.4 L602.7 235.5 L606.2 234.6 L609.7 233.7 L613.2 232.9 L616.7 232.1 L620.1 231.3 L623.6 230.6 L627.1 229.8 L630.6 229.1 L634.0 228.4 L637.5 227.7 L641.0 227.1 L644.5 226.4 L647.9 225.8 L651.4 225.2 L654.9 224.6 L658.4 224.0 L661.8 223.4 L665.3 222.9 L668.8 222.3 L672.3 221.8 L675.7 221.3 L679.2 220.7 L682.7 220.2 L686.2 219.7 L689.6 219.3 L693.1 218.8 L696.6 218.3 L700.1 217.8 L703.6 217.3 L707.1 216.9 L710.6 216.4 L714.1 215.9 L717.6 215.5 L721.1 215.0 L724.6 214.6 L728.0 214.2 L731.5 213.8 L735.0 213.3 L738.5 212.9 L742.0 212.5 L745.5 212.1 L749.0 211.7 L752.5 211.4 L756.0 211.0 L759.5 210.6 L763.0 210.2 L766.5 209.9 L770.0 209.5 L773.5 209.2 L777.0 208.9 L780.5 208.5 L784.0 208.2 L787.4 207.9 L790.9 207.6 L794.4 207.2 L797.9 206.9 L801.4 206.6 L804.9 206.3 L808.4 206.1 L811.9 205.8 L815.4 205.5 L818.9 205.2 L822.4 205.0 L825.9 204.7 L829.4 204.4 L832.9 204.2 L836.4 203.9 L839.9 203.7 L843.3 203.5 L846.8 203.2 L850.3 203.0 L853.8 202.8 L857.3 202.6 L860.8 202.4 L864.3 202.1 L867.8 201.9 L871.3 201.7 L874.8 201.5 L878.3 201.4 L881.7 201.2 L885.2 201.0 L888.7 200.8 L892.2 200.6 L895.7 200.5 L899.2 200.3 L902.6 200.1 L906.1 200.0 L909.6 199.8 L913.1 199.7 L916.6 199.5 L920.0 199.4 L923.5 199.3 L927.0 199.1 L930.5 199.0 L934.0 198.9 L937.5 198.7 L940.9 198.6 L944.4 198.5 L947.9 198.4 L951.4 198.3 L954.9 198.2 L958.4 198.0 L961.8 197.9 L965.3 197.8 L968.8 197.7 L972.3 197.6 L975.8 197.6 L979.2 197.5 L982.7 197.4 L986.2 197.3 L989.7 197.2 L993.2 197.1 L996.7 197.1 L1000.1 197.0 L1003.6 196.9 L1007.1 196.8 L1010.6 196.8 L1014.1 196.7 L1017.5 196.6 L1021.0 196.6 L1024.5 196.5 L1028.0 196.5 L1031.5 196.4 L1035.0 196.3 L1038.4 196.3 L1041.9 196.2 L1045.4 196.2 L1048.9 196.1 L1052.5 196.1 L1056.0 196.0 L1059.5 196.0 L1063.0 196.0 L1066.6 195.9 L1070.1 195.9 L1073.6 195.8 L1077.2 195.8 L1080.7 195.8 L1084.2 195.7 L1087.7 195.7 L1091.3 195.6 L1094.8 195.6 L1098.3 195.6 L1101.8 195.5 L1105.4 195.5 L1108.9 195.5 L1112.4 195.5 L1116.0 195.4 L1119.5 195.4 L1123.0 195.4 L1126.5 195.3 L1130.1 195.3 L1133.6 195.3 L1137.1 195.2 L1140.7 195.2 L1144.2 195.2 L1147.7 195.1 L1151.2 195.1 L1154.8 195.1 L1158.3 195.1 L1161.8 195.0 L1165.4 195.0 L1168.9 195.0 L1172.4 194.9 L1175.9 194.9 L1179.5 194.9 L1183.0 194.8 L1186.5 194.8 L1190.0 194.7 L1193.6 194.7 L1197.1 194.7 L1200.6 194.6 L1204.2 194.6 L1207.7 194.6 L1211.2 194.5 L1214.7 194.5 L1218.3 194.4 L1221.8 194.4 L1225.3 194.3 L1228.9 194.3 L1232.4 194.2 L1235.9 194.2 L1239.4 194.1 L1243.0 194.1 L1246.5 194.0 L1250.0 193.9 L1253.6 193.9 L1257.1 193.8" stroke="#000000" stroke-dasharray="33 7.5"/>
<path d="M174.3 827.2 L177.8 818.4 L181.2 810.3 L184.7 802.8 L188.2 795.7 L191.7 789.0 L195.1 782.5 L198.6 776.1 L202.1 769.8 L205.5 763.6 L209.0 757.4 L212.5 751.1 L216.0 744.6 L219.4 737.9 L222.9 730.7 L226.4 723.2 L229.9 715.1 L233.3 706.4 L236.8 697.0 L240.3 686.9 L243.7 676.1 L247.2 665.0 L250.7 653.5 L254.2 642.4 L257.6 631.3 L261.1 620.2 L264.6 609.1 L268.0 597.9 L271.5 587.1 L275.0 576.6 L278.5 566.6 L281.9 557.2 L285.4 548.3 L288.9 539.8 L292.3 531.7 L295.8 523.9 L299.3 516.4 L302.8 509.2 L306.2 502.2 L309.7 495.4 L313.2 488.9 L316.7 482.6 L320.1 476.5 L323.6 470.7 L327.1 465.0 L330.5 459.5 L334.0 454.2 L337.5 449.0 L341.0 443.9 L344.4 438.9 L347.9 434.1 L351.4 429.6 L354.9 425.1 L358.4 420.8 L361.9 416.5 L365.4 412.3 L368.9 408.2 L372.4 404.2 L375.9 400.2 L379.4 396.4 L382.9 392.6 L386.4 388.8 L389.9 385.0 L393.4 381.3 L396.9 377.7 L400.4 374.2 L403.9 370.7 L407.4 367.4 L410.9 364.1 L414.4 360.9 L417.9 357.8 L421.4 354.7 L424.9 351.7 L428.4 348.8 L431.9 346.0 L435.3 343.2 L438.8 340.5 L442.3 337.9 L445.8 335.3 L449.3 332.9 L452.8 330.4 L456.3 328.0 L459.8 325.7 L463.3 323.5 L466.8 321.3 L470.3 319.1 L473.8 317.0 L477.3 315.0 L480.8 313.0 L484.3 311.1 L487.8 309.2 L491.3 307.3 L494.8 305.5 L498.3 303.8 L501.8 302.1 L505.3 300.4 L508.8 298.8 L512.3 297.2 L515.8 295.7 L519.3 294.2 L522.8 292.7 L526.3 291.2 L529.8 289.8 L533.2 288.5 L536.7 287.1 L540.2 285.8 L543.7 284.5 L547.1 283.3 L550.6 282.1 L554.1 280.9 L557.6 279.7 L561.0 278.6 L564.5 277.5 L568.0 276.5 L571.5 275.4 L574.9 274.4 L578.4 273.4 L581.9 272.4 L585.4 271.5 L588.8 270.6 L592.3 269.7 L595.8 268.8 L599.3 268.0 L602.7 267.2 L606.2 266.4 L609.7 265.6 L613.2 264.8 L616.7 264.1 L620.1 263.4 L623.6 262.7 L627.1 262.0 L630.6 261.3 L634.0 260.7 L637.5 260.0 L641.0 259.5 L644.5 258.9 L647.9 258.3 L651.4 257.8 L654.9 257.2 L658.4 256.7 L661.8 256.2 L665.3 255.7 L668.8 255.2 L672.3 254.7 L675.7 254.3 L679.2 253.8 L682.7 253.3 L686.2 252.9 L689.6 252.5 L693.1 252.0 L696.6 251.6 L700.1 251.2 L703.6 250.8 L707.1 250.4 L710.6 250.0 L714.1 249.6 L717.6 249.2 L721.1 248.8 L724.6 248.4 L728.0 248.1 L731.5 247.7 L735.0 247.3 L738.5 247.0 L742.0 246.6 L745.5 246.3 L749.0 246.0 L752.5 245.6 L756.0 245.3 L759.5 245.0 L763.0 244.7 L766.5 244.3 L770.0 244.0 L773.5 243.7 L777.0 243.4 L780.5 243.1 L784.0 242.9 L787.4 242.6 L790.9 242.3 L794.4 242.0 L797.9 241.8 L801.4 241.5 L804.9 241.2 L808.4 241.0 L811.9 240.7 L815.4 240.5 L818.9 240.2 L822.4 240.0 L825.9 239.8 L829.4 239.5 L832.9 239.3 L836.4 239.1 L839.9 238.9 L843.3 238.7 L846.8 238.5 L850.3 238.3 L853.8 238.1 L857.3 237.9 L860.8 237.7 L864.3 237.5 L867.8 237.3 L871.3 237.1 L874.8 236.9 L878.3 236.8 L881.7 236.6 L885.2 236.4 L888.7 236.3 L892.2 236.1 L895.7 236.0 L899.2 235.8 L902.6 235.7 L906.1 235.5 L909.6 235.4 L913.1 235.2 L916.6 235.1 L920.0 235.0 L923.5 234.8 L927.0 234.7 L930.5 234.6 L934.0 234.5 L937.5 234.3 L940.9 234.2 L944.4 234.1 L947.9 234.0 L951.4 233.9 L954.9 233.8 L958.4 233.7 L961.8 233.6 L965.3 233.5 L968.8 233.4 L972.3 233.3 L975.8 233.2 L979.2 233.1 L982.7 233.0 L986.2 233.0 L989.7 232.9 L993.2 232.8 L996.7 232.7 L1000.1 232.6 L1003.6 232.6 L1007.1 232.5 L1010.6 232.4 L1014.1 232.4 L1017.5 232.3 L1021.0 232.2 L1024.5 232.2 L1028.0 232.1 L1031.5 232.1 L1035.0 232.0 L1038.4 231.9 L1041.9 231.9 L1045.4 231.8 L1048.9 231.8 L1052.5 231.7 L1056.0 231.7 L1059.5 231.6 L1063.0 231.6 L1066.6 231.5 L1070.1 231.5 L1073.6 231.5 L1077.2 231.4 L1080.7 231.4 L1084.2 231.3 L1087.7 231.3 L1091.3 231.3 L1094.8 231.2 L1098.3 231.2 L1101.8 231.1 L1105.4 231.1 L1108.9 231.1 L1112.4 231.0 L1116.0 231.0 L1119.5 231.0 L1123.0 230.9 L1126.5 230.9 L1130.1 230.9 L1133.6 230.8 L1137.1 230.8 L1140.7 230.8 L1144.2 230.7 L1147.7 230.7 L1151.2 230.7 L1154.8 230.6 L1158.3 230.6 L1161.8 230.6 L1165.4 230.6 L1168.9 230.5 L1172.4 230.5 L1175.9 230.5 L1179.5 230.4 L1183.0 230.4 L1186.5 230.4 L1190.0 230.3 L1193.6 230.3 L1197.1 230.3 L1200.6 230.2 L1204.2 230.2 L1207.7 230.1 L1211.2 230.1 L1214.7 230.1 L1218.3 230.0 L1221.8 230.0 L1225.3 230.0 L1228.9 229.9 L1232.4 229.9 L1235.9 229.8 L1239.4 229.8 L1243.0 229.7 L1246.5 229.7 L1250.0 229.6 L1253.6 229.6 L1257.1 229.5" stroke="#0818e0" stroke-dasharray="32 6.5 4 5"/>
<path d="M174.3 827.2 L177.8 817.7 L181.2 809.1 L184.7 801.3 L188.2 794.1 L191.7 787.4 L195.1 780.9 L198.6 774.6 L202.1 768.5 L205.5 762.5 L209.0 756.4 L212.5 750.2 L216.0 743.6 L219.4 736.6 L222.9 729.1 L226.4 720.8 L229.9 711.8 L233.3 701.9 L236.8 690.9 L240.3 679.0 L243.7 666.4 L247.2 653.6 L250.7 641.2 L254.2 629.0 L257.6 616.8 L261.1 604.4 L264.6 592.1 L268.0 580.3 L271.5 569.1 L275.0 558.7 L278.5 549.1 L281.9 540.1 L285.4 531.7 L288.9 523.7 L292.3 516.0 L295.8 508.7 L299.3 501.6 L302.8 494.8 L306.2 488.3 L309.7 482.1 L313.2 476.1 L316.7 470.3 L320.1 464.7 L323.6 459.4 L327.1 454.2 L330.5 449.2 L334.0 444.3 L337.5 439.6 L341.0 435.0 L344.4 430.6 L347.9 426.4 L351.4 422.3 L354.9 418.2 L358.4 414.3 L361.9 410.4 L365.4 406.6 L368.9 403.0 L372.4 399.4 L375.9 395.9 L379.4 392.4 L382.9 388.9 L386.4 385.5 L389.9 382.2 L393.4 379.0 L396.9 375.8 L400.4 372.7 L403.9 369.7 L407.4 366.8 L410.9 364.0 L414.4 361.2 L417.9 358.5 L421.4 355.9 L424.9 353.3 L428.4 350.8 L431.9 348.4 L435.3 346.1 L438.8 343.8 L442.3 341.6 L445.8 339.4 L449.3 337.4 L452.8 335.3 L456.3 333.3 L459.8 331.4 L463.3 329.6 L466.8 327.7 L470.3 326.0 L473.8 324.3 L477.3 322.6 L480.8 321.0 L484.3 319.4 L487.8 317.9 L491.3 316.4 L494.8 314.9 L498.3 313.5 L501.8 312.2 L505.3 310.8 L508.8 309.5 L512.3 308.3 L515.8 307.0 L519.3 305.8 L522.8 304.6 L526.3 303.5 L529.8 302.4 L533.2 301.3 L536.7 300.2 L540.2 299.1 L543.7 298.1 L547.1 297.1 L550.6 296.2 L554.1 295.2 L557.6 294.3 L561.0 293.4 L564.5 292.5 L568.0 291.6 L571.5 290.8 L574.9 290.0 L578.4 289.2 L581.9 288.4 L585.4 287.7 L588.8 286.9 L592.3 286.2 L595.8 285.5 L599.3 284.8 L602.7 284.2 L606.2 283.5 L609.7 282.9 L613.2 282.3 L616.7 281.7 L620.1 281.1 L623.6 280.6 L627.1 280.0 L630.6 279.5 L634.0 279.0 L637.5 278.4 L641.0 278.0 L644.5 277.5 L647.9 277.0 L651.4 276.5 L654.9 276.1 L658.4 275.7 L661.8 275.2 L665.3 274.8 L668.8 274.4 L672.3 274.0 L675.7 273.6 L679.2 273.2 L682.7 272.9 L686.2 272.5 L689.6 272.1 L693.1 271.8 L696.6 271.4 L700.1 271.1 L703.6 270.8 L707.1 270.4 L710.6 270.1 L714.1 269.8 L717.6 269.5 L721.1 269.2 L724.6 268.9 L728.0 268.6 L731.5 268.3 L735.0 268.0 L738.5 267.7 L742.0 267.4 L745.5 267.2 L749.0 266.9 L752.5 266.7 L756.0 266.4 L759.5 266.1 L763.0 265.9 L766.5 265.7 L770.0 265.4 L773.5 265.2 L777.0 265.0 L780.5 264.7 L784.0 264.5 L787.4 264.3 L790.9 264.1 L794.4 263.9 L797.9 263.7 L801.4 263.5 L804.9 263.3 L808.4 263.1 L811.9 262.9 L815.4 262.7 L818.9 262.6 L822.4 262.4 L825.9 262.2 L829.4 262.0 L832.9 261.9 L836.4 261.7 L839.9 261.6 L843.3 261.4 L846.8 261.3 L850.3 261.1 L853.8 261.0 L857.3 260.9 L860.8 260.7 L864.3 260.6 L867.8 260.5 L871.3 260.4 L874.8 260.2 L878.3 260.1 L881.7 260.0 L885.2 259.9 L888.7 259.8 L892.2 259.7 L895.7 259.6 L899.2 259.5 L902.6 259.4 L906.1 259.3 L909.6 259.2 L913.1 259.1 L916.6 259.1 L920.0 259.0 L923.5 258.9 L927.0 258.8 L930.5 258.8 L934.0 258.7 L937.5 258.6 L940.9 258.5 L944.4 258.5 L947.9 258.4 L951.4 258.3 L954.9 258.3 L958.4 258.2 L961.8 258.2 L965.3 258.1 L968.8 258.1 L972.3 258.0 L975.8 258.0 L979.2 257.9 L982.7 257.9 L986.2 257.8 L989.7 257.8 L993.2 257.7 L996.7 257.7 L1000.1 257.6 L1003.6 257.6 L1007.1 257.6 L1010.6 257.5 L1014.1 257.5 L1017.5 257.5 L1021.0 257.4 L1024.5 257.4 L1028.0 257.4 L1031.5 257.3 L1035.0 257.3 L1038.4 257.3 L1041.9 257.2 L1045.4 257.2 L1048.9 257.2 L1052.5 257.2 L1056.0 257.1 L1059.5 257.1 L1063.0 257.1 L1066.6 257.1 L1070.1 257.0 L1073.6 257.0 L1077.2 257.0 L1080.7 256.9 L1084.2 256.9 L1087.7 256.9 L1091.3 256.9 L1094.8 256.8 L1098.3 256.8 L1101.8 256.8 L1105.4 256.8 L1108.9 256.7 L1112.4 256.7 L1116.0 256.7 L1119.5 256.7 L1123.0 256.6 L1126.5 256.6 L1130.1 256.6 L1133.6 256.6 L1137.1 256.5 L1140.7 256.5 L1144.2 256.5 L1147.7 256.4 L1151.2 256.4 L1154.8 256.4 L1158.3 256.3 L1161.8 256.3 L1165.4 256.3 L1168.9 256.2 L1172.4 256.2 L1175.9 256.1 L1179.5 256.1 L1183.0 256.0 L1186.5 256.0 L1190.0 256.0 L1193.6 255.9 L1197.1 255.9 L1200.6 255.8 L1204.2 255.8 L1207.7 255.7 L1211.2 255.7 L1214.7 255.6 L1218.3 255.5 L1221.8 255.5 L1225.3 255.4 L1228.9 255.4 L1232.4 255.3 L1235.9 255.2 L1239.4 255.1 L1243.0 255.1 L1246.5 255.0 L1250.0 254.9 L1253.6 254.8 L1257.1 254.8" stroke="#1fae38"/>
<path d="M174.3 827.2 L177.8 818.2 L181.2 809.8 L184.7 802.0 L188.2 794.6 L191.7 787.6 L195.1 780.6 L198.6 773.7 L202.1 766.9 L205.5 760.1 L209.0 753.3 L212.5 746.3 L216.0 739.0 L219.4 731.3 L222.9 723.2 L226.4 714.6 L229.9 705.4 L233.3 695.4 L236.8 684.7 L240.3 673.3 L243.7 661.4 L247.2 649.5 L250.7 637.8 L254.2 626.2 L257.6 614.8 L261.1 603.4 L264.6 592.4 L268.0 581.9 L271.5 571.8 L275.0 562.1 L278.5 552.8 L281.9 544.0 L285.4 535.6 L288.9 527.6 L292.3 520.1 L295.8 512.9 L299.3 506.0 L302.8 499.4 L306.2 493.1 L309.7 486.9 L313.2 480.8 L316.7 474.8 L320.1 468.9 L323.6 463.0 L327.1 457.1 L330.5 451.3 L334.0 445.5 L337.5 439.7 L341.0 434.0 L344.4 428.6 L347.9 423.1 L351.4 417.7 L354.9 412.4 L358.4 407.1 L361.9 401.8 L365.4 396.6 L368.9 391.3 L372.4 385.9 L375.9 380.6 L379.4 375.4 L382.9 370.2 L386.4 365.1 L389.9 360.0 L393.4 355.1 L396.9 350.2 L400.4 345.4 L403.9 340.7 L407.4 336.0 L410.9 331.5 L414.4 327.1 L417.9 322.7 L421.4 318.4 L424.9 314.3 L428.4 310.2 L431.9 306.2 L435.3 302.4 L438.8 298.6 L442.3 295.0 L445.8 291.4 L449.3 288.0 L452.8 284.6 L456.3 281.4 L459.8 278.2 L463.3 275.1 L466.8 272.1 L470.3 269.2 L473.8 266.4 L477.3 263.7 L480.8 261.0 L484.3 258.5 L487.8 256.1 L491.3 253.8 L494.8 251.5 L498.3 249.2 L501.8 247.1 L505.3 244.9 L508.8 242.9 L512.3 240.9 L515.8 238.9 L519.3 237.0 L522.8 235.1 L526.3 233.3 L529.8 231.5 L533.2 229.7 L536.7 228.0 L540.2 226.3 L543.7 224.6 L547.1 223.0 L550.6 221.4 L554.1 219.9 L557.6 218.4 L561.0 216.8 L564.5 215.3 L568.0 213.8 L571.5 212.4 L574.9 210.9 L578.4 209.6 L581.9 208.2 L585.4 206.9 L588.8 205.6 L592.3 204.3 L595.8 203.1 L599.3 201.9 L602.7 200.7 L606.2 199.5 L609.7 198.4 L613.2 197.3 L616.7 196.2 L620.1 195.2 L623.6 194.2 L627.1 193.2 L630.6 192.2 L634.0 191.2 L637.5 190.3 L641.0 189.3 L644.5 188.4 L647.9 187.6 L651.4 186.7 L654.9 185.9 L658.4 185.0 L661.8 184.2 L665.3 183.4 L668.8 182.7 L672.3 181.9 L675.7 181.1 L679.2 180.4 L682.7 179.7 L686.2 179.0 L689.6 178.3 L693.1 177.6 L696.6 176.9 L700.1 176.2 L703.6 175.6 L707.1 174.9 L710.6 174.3 L714.1 173.6 L717.6 173.0 L721.1 172.4 L724.6 171.8 L728.0 171.2 L731.5 170.6 L735.0 170.0 L738.5 169.5 L742.0 168.9 L745.5 168.4 L749.0 167.8 L752.5 167.3 L756.0 166.7 L759.5 166.2 L763.0 165.7 L766.5 165.2 L770.0 164.7 L773.5 164.2 L777.0 163.8 L780.5 163.3 L784.0 162.8 L787.4 162.4 L790.9 161.9 L794.4 161.5 L797.9 161.0 L801.4 160.6 L804.9 160.2 L808.4 159.8 L811.9 159.4 L815.4 159.0 L818.9 158.6 L822.4 158.2 L825.9 157.9 L829.4 157.5 L832.9 157.1 L836.4 156.8 L839.9 156.4 L843.3 156.1 L846.8 155.7 L850.3 155.4 L853.8 155.1 L857.3 154.8 L860.8 154.5 L864.3 154.2 L867.8 153.9 L871.3 153.6 L874.8 153.3 L878.3 153.0 L881.7 152.7 L885.2 152.5 L888.7 152.2 L892.2 152.0 L895.7 151.7 L899.2 151.5 L902.6 151.2 L906.1 151.0 L909.6 150.7 L913.1 150.5 L916.6 150.3 L920.0 150.1 L923.5 149.9 L927.0 149.7 L930.5 149.5 L934.0 149.3 L937.5 149.1 L940.9 148.9 L944.4 148.7 L947.9 148.5 L951.4 148.3 L954.9 148.2 L958.4 148.0 L961.8 147.8 L965.3 147.7 L968.8 147.5 L972.3 147.4 L975.8 147.2 L979.2 147.1 L982.7 146.9 L986.2 146.8 L989.7 146.7 L993.2 146.5 L996.7 146.4 L1000.1 146.3 L1003.6 146.2 L1007.1 146.0 L1010.6 145.9 L1014.1 145.8 L1017.5 145.7 L1021.0 145.6 L1024.5 145.5 L1028.0 145.4 L1031.5 145.3 L1035.0 145.2 L1038.4 145.1 L1041.9 145.0 L1045.4 144.9 L1048.9 144.8 L1052.5 144.7 L1056.0 144.7 L1059.5 144.6 L1063.0 144.5 L1066.6 144.4 L1070.1 144.3 L1073.6 144.3 L1077.2 144.2 L1080.7 144.1 L1084.2 144.0 L1087.7 144.0 L1091.3 143.9 L1094.8 143.8 L1098.3 143.8 L1101.8 143.7 L1105.4 143.6 L1108.9 143.6 L1112.4 143.5 L1116.0 143.4 L1119.5 143.4 L1123.0 143.3 L1126.5 143.3 L1130.1 143.2 L1133.6 143.1 L1137.1 143.1 L1140.7 143.0 L1144.2 143.0 L1147.7 142.9 L1151.2 142.8 L1154.8 142.8 L1158.3 142.7 L1161.8 142.7 L1165.4 142.6 L1168.9 142.5 L1172.4 142.5 L1175.9 142.4 L1179.5 142.3 L1183.0 142.3 L1186.5 142.2 L1190.0 142.1 L1193.6 142.1 L1197.1 142.0 L1200.6 141.9 L1204.2 141.9 L1207.7 141.8 L1211.2 141.7 L1214.7 141.7 L1218.3 141.6 L1221.8 141.5 L1225.3 141.4 L1228.9 141.3 L1232.4 141.3 L1235.9 141.2 L1239.4 141.1 L1243.0 141.0 L1246.5 140.9 L1250.0 140.8 L1253.6 140.7 L1257.1 140.6" stroke="#d00000" stroke-dasharray="4.4 5.9"/>
<path d="M174.3 827.2 L177.8 818.3 L181.2 810.2 L184.7 802.6 L188.2 795.5 L191.7 788.9 L195.1 782.4 L198.6 776.0 L202.1 769.8 L205.5 763.6 L209.0 757.5 L212.5 751.3 L216.0 744.9 L219.4 738.3 L222.9 731.3 L226.4 723.8 L229.9 715.9 L233.3 707.3 L236.8 698.0 L240.3 687.9 L243.7 677.2 L247.2 666.2 L250.7 655.0 L254.2 644.4 L257.6 633.9 L261.1 623.6 L264.6 613.6 L268.0 603.5 L271.5 593.6 L275.0 584.1 L278.5 574.8 L281.9 565.9 L285.4 557.2 L288.9 548.8 L292.3 540.7 L295.8 532.8 L299.3 525.1 L302.8 517.7 L306.2 510.6 L309.7 503.6 L313.2 496.9 L316.7 490.4 L320.1 484.0 L323.6 477.9 L327.1 472.0 L330.5 466.3 L334.0 460.7 L337.5 455.2 L341.0 449.9 L344.4 444.8 L347.9 439.7 L351.4 434.8 L354.9 430.2 L358.4 425.6 L361.9 421.2 L365.4 416.8 L368.9 412.6 L372.4 408.4 L375.9 404.3 L379.4 400.4 L382.9 396.5 L386.4 392.6 L389.9 388.7 L393.4 384.9 L396.9 381.2 L400.4 377.5 L403.9 374.0 L407.4 370.5 L410.9 367.1 L414.4 363.8 L417.9 360.5 L421.4 357.4 L424.9 354.3 L428.4 351.3 L431.9 348.3 L435.3 345.5 L438.8 342.7 L442.3 340.0 L445.8 337.4 L449.3 334.8 L452.8 332.3 L456.3 329.8 L459.8 327.4 L463.3 325.1 L466.8 322.8 L470.3 320.6 L473.8 318.4 L477.3 316.3 L480.8 314.3 L484.3 312.2 L487.8 310.3 L491.3 308.4 L494.8 306.5 L498.3 304.7 L501.8 302.9 L505.3 301.2 L508.8 299.5 L512.3 297.8 L515.8 296.2 L519.3 294.6 L522.8 293.1 L526.3 291.6 L529.8 290.1 L533.2 288.7 L536.7 287.2 L540.2 285.9 L543.7 284.5 L547.1 283.2 L550.6 281.9 L554.1 280.6 L557.6 279.4 L561.0 278.2 L564.5 277.0 L568.0 275.9 L571.5 274.8 L574.9 273.7 L578.4 272.6 L581.9 271.5 L585.4 270.5 L588.8 269.5 L592.3 268.5 L595.8 267.6 L599.3 266.7 L602.7 265.8 L606.2 264.9 L609.7 264.0 L613.2 263.2 L616.7 262.4 L620.1 261.5 L623.6 260.8 L627.1 260.0 L630.6 259.3 L634.0 258.6 L637.5 257.9 L641.0 257.3 L644.5 256.6 L647.9 256.0 L651.4 255.4 L654.9 254.7 L658.4 254.1 L661.8 253.6 L665.3 253.0 L668.8 252.4 L672.3 251.9 L675.7 251.3 L679.2 250.8 L682.7 250.3 L686.2 249.8 L689.6 249.3 L693.1 248.8 L696.6 248.3 L700.1 247.8 L703.6 247.4 L707.1 246.9 L710.6 246.4 L714.1 246.0 L717.6 245.5 L721.1 245.1 L724.6 244.7 L728.0 244.3 L731.5 243.8 L735.0 243.4 L738.5 243.0 L742.0 242.6 L745.5 242.2 L749.0 241.8 L752.5 241.5 L756.0 241.1 L759.5 240.7 L763.0 240.4 L766.5 240.0 L770.0 239.7 L773.5 239.3 L777.0 239.0 L780.5 238.7 L784.0 238.3 L787.4 238.0 L790.9 237.7 L794.4 237.4 L797.9 237.1 L801.4 236.8 L804.9 236.5 L808.4 236.2 L811.9 235.9 L815.4 235.7 L818.9 235.4 L822.4 235.1 L825.9 234.9 L829.4 234.6 L832.9 234.4 L836.4 234.1 L839.9 233.9 L843.3 233.6 L846.8 233.4 L850.3 233.2 L853.8 233.0 L857.3 232.7 L860.8 232.5 L864.3 232.3 L867.8 232.1 L871.3 231.9 L874.8 231.7 L878.3 231.5 L881.7 231.3 L885.2 231.2 L888.7 231.0 L892.2 230.8 L895.7 230.6 L899.2 230.5 L902.6 230.3 L906.1 230.1 L909.6 230.0 L913.1 229.8 L916.6 229.7 L920.0 229.5 L923.5 229.4 L927.0 229.2 L930.5 229.1 L934.0 229.0 L937.5 228.8 L940.9 228.7 L944.4 228.6 L947.9 228.5 L951.4 228.4 L954.9 228.2 L958.4 228.1 L961.8 228.0 L965.3 227.9 L968.8 227.8 L972.3 227.7 L975.8 227.6 L979.2 227.5 L982.7 227.4 L986.2 227.3 L989.7 227.2 L993.2 227.2 L996.7 227.1 L1000.1 227.0 L1003.6 226.9 L1007.1 226.8 L1010.6 226.7 L1014.1 226.7 L1017.5 226.6 L1021.0 226.5 L1024.5 226.5 L1028.0 226.4 L1031.5 226.3 L1035.0 226.3 L1038.4 226.2 L1041.9 226.1 L1045.4 226.1 L1048.9 226.0 L1052.5 226.0 L1056.0 225.9 L1059.5 225.8 L1063.0 225.8 L1066.6 225.7 L1070.1 225.7 L1073.6 225.6 L1077.2 225.6 L1080.7 225.5 L1084.2 225.5 L1087.7 225.4 L1091.3 225.4 L1094.8 225.3 L1098.3 225.3 L1101.8 225.3 L1105.4 225.2 L1108.9 225.2 L1112.4 225.1 L1116.0 225.1 L1119.5 225.0 L1123.0 225.0 L1126.5 224.9 L1130.1 224.9 L1133.6 224.9 L1137.1 224.8 L1140.7 224.8 L1144.2 224.7 L1147.7 224.7 L1151.2 224.6 L1154.8 224.6 L1158.3 224.5 L1161.8 224.5 L1165.4 224.4 L1168.9 224.4 L1172.4 224.3 L1175.9 224.3 L1179.5 224.2 L1183.0 224.2 L1186.5 224.1 L1190.0 224.1 L1193.6 224.0 L1197.1 224.0 L1200.6 223.9 L1204.2 223.9 L1207.7 223.8 L1211.2 223.7 L1214.7 223.7 L1218.3 223.6 L1221.8 223.5 L1225.3 223.5 L1228.9 223.4 L1232.4 223.3 L1235.9 223.3 L1239.4 223.2 L1243.0 223.1 L1246.5 223.0 L1250.0 223.0 L1253.6 222.9 L1257.1 222.8" stroke="#00c8c8" stroke-dasharray="33 7.5"/>
</g>
<path d="M174.3 88.3 v12.5 M174.3 851.6 v-12.5 M347.9 88.3 v12.5 M347.9 851.6 v-12.5 M522.8 88.3 v12.5 M522.8 851.6 v-12.5 M696.6 88.3 v12.5 M696.6 851.6 v-12.5 M871.3 88.3 v12.5 M871.3 851.6 v-12.5 M1045.4 88.3 v12.5 M1045.4 851.6 v-12.5 M1221.8 88.3 v12.5 M1221.8 851.6 v-12.5 M151.7 827.2 h12.5 M1278.6 827.2 h-12.5 M151.7 785.7 h12.5 M1278.6 785.7 h-12.5 M151.7 741.8 h12.5 M1278.6 741.8 h-12.5 M151.7 697.8 h12.5 M1278.6 697.8 h-12.5 M151.7 653.8 h12.5 M1278.6 653.8 h-12.5 M151.7 611.7 h12.5 M1278.6 611.7 h-12.5 M151.7 567.7 h12.5 M1278.6 567.7 h-12.5 M151.7 523.5 h12.5 M1278.6 523.5 h-12.5 M151.7 479.2 h12.5 M1278.6 479.2 h-12.5 M151.7 435.3 h12.5 M1278.6 435.3 h-12.5 M151.7 393.1 h12.5 M1278.6 393.1 h-12.5 M151.7 348.8 h12.5 M1278.6 348.8 h-12.5 M151.7 304.8 h12.5 M1278.6 304.8 h-12.5 M151.7 260.8 h12.5 M1278.6 260.8 h-12.5 M151.7 218.7 h12.5 M1278.6 218.7 h-12.5 M151.7 174.5 h12.5 M1278.6 174.5 h-12.5 M151.7 130.2 h12.5 M1278.6 130.2 h-12.5" stroke="#6f6f6f" stroke-width="3" fill="none"/>
<rect x="151.7" y="88.3" width="1126.8999999999999" height="763.3000000000001" fill="none" stroke="#6f6f6f" stroke-width="3.6"/>
<g font-family="'DejaVu Sans','Liberation Sans',sans-serif" fill="#000"><text x="109.38 126.19" y="835.60" font-size="25.212">20</text><text x="84.17 100.98 117.79 126.19" y="794.10" font-size="25.212">20.5</text><text x="109.38 126.19" y="750.20" font-size="25.212">21</text><text x="84.17 100.98 117.79 126.19" y="706.20" font-size="25.212">21.5</text><text x="109.38 126.19" y="662.20" font-size="25.212">22</text><text x="84.17 100.98 117.79 126.19" y="620.10" font-size="25.212">22.5</text><text x="109.38 126.19" y="576.10" font-size="25.212">23</text><text x="84.17 100.98 117.79 126.19" y="531.90" font-size="25.212">23.5</text><text x="109.38 126.19" y="487.60" font-size="25.212">24</text><text x="84.17 100.98 117.79 126.19" y="443.70" font-size="25.212">24.5</text><text x="109.38 126.19" y="401.50" font-size="25.212">25</text><text x="84.17 100.98 117.79 126.19" y="357.20" font-size="25.212">25.5</text><text x="109.38 126.19" y="313.20" font-size="25.212">26</text><text x="84.17 100.98 117.79 126.19" y="269.20" font-size="25.212">26.5</text><text x="109.38 126.19" y="227.10" font-size="25.212">27</text><text x="84.17 100.98 117.79 126.19" y="182.90" font-size="25.212">27.5</text><text x="109.38 126.19" y="138.60" font-size="25.212">28</text><text x="166.84" y="889.30" font-size="25.212">0</text><text x="322.53 339.34 356.15" y="889.30" font-size="25.212">100</text><text x="498.95 515.76 532.57" y="889.30" font-size="25.212">200</text><text x="674.08 690.89 707.70" y="889.30" font-size="25.212">300</text><text x="847.27 864.08 880.88" y="889.30" font-size="25.212">400</text><text x="1021.75 1038.56 1055.37" y="889.30" font-size="25.212">500</text><text x="1198.74 1215.55 1232.36" y="889.30" font-size="25.212">600</text><text x="337.55 352.26 373.27 390.07 415.29 423.69 432.10 446.80 453.11 469.91 490.92 507.73 524.54 541.35 556.05 572.86 589.67 598.07 612.78 629.59 646.40 654.80 673.71 680.01 696.82 717.83 734.64 743.04 759.85 776.66 793.47 801.87 827.08 835.49" y="46.60" font-size="25.212">P=3W; Tin=25degC and Uin=0.001 m/s</text><text x="666.07 680.78 687.08 712.30 727.00 735.41 745.91 758.52" y="922.50" font-size="25.212">Time (s)</text></g>
<g transform="translate(34.7 655.7) rotate(-90)" font-family="'DejaVu Sans','Liberation Sans',sans-serif" fill="#000"><text x="0.00 16.81 31.52 46.22 56.73 71.43 88.24 102.95 111.35 126.06 140.77 165.98 182.79 197.49 208.00 222.71 233.21 250.02 260.52 275.23 283.63 294.14 313.05 327.76 344.56 361.37" y="0.00" font-size="25.212">Average Temperature (DegC)</text></g>
<rect x="1041.3000000000002" y="374.8" width="203.5" height="455.00000000000006" fill="#848484"/>
<rect x="1048.9" y="367.2" width="203.5" height="455.00000000000006" fill="#fff" stroke="#000" stroke-width="2.2"/>
<path d="M1065.00 394.2 H1121.00" stroke="#0818e0" stroke-width="3.1" fill="none"/><path d="M1066.20 434.2 H1119.70" stroke="#16a82a" stroke-width="3.1" stroke-dasharray="3.00 4.20" fill="none"/><path d="M1066.70 474.1 H1119.10" stroke="#d00000" stroke-width="3.1" stroke-dasharray="22.70 4.60 60" fill="none"/><path d="M1066.60 514.1 H1121.00" stroke="#00c8c8" stroke-width="3.1" stroke-dasharray="2.50 4.20 22.70 4.30 4.00 4.10 60" fill="none"/><path d="M1065.00 554.0 H1121.00" stroke="#b000b8" stroke-width="3.1" fill="none"/><path d="M1066.20 594.0 H1119.70" stroke="#ffb400" stroke-width="3.1" stroke-dasharray="3.00 4.20" fill="none"/><path d="M1066.70 634.0 H1119.10" stroke="#000000" stroke-width="3.1" stroke-dasharray="22.70 4.60 60" fill="none"/><path d="M1066.60 673.9 H1121.00" stroke="#0818e0" stroke-width="3.1" stroke-dasharray="2.50 4.20 22.70 4.30 4.00 4.10 60" fill="none"/><path d="M1065.00 713.9 H1121.00" stroke="#1fae38" stroke-width="3.1" fill="none"/><path d="M1066.20 753.8 H1119.70" stroke="#d00000" stroke-width="3.1" stroke-dasharray="3.00 4.20" fill="none"/><path d="M1066.70 793.8 H1119.10" stroke="#00c8c8" stroke-width="3.1" stroke-dasharray="22.70 4.60 60" fill="none"/>
<g font-family="'DejaVu Sans','Liberation Sans',sans-serif" fill="#000"><text x="1133.78 1150.59 1165.30 1177.91 1192.61 1201.02" y="405.50" font-size="25.212">Case 1</text><text x="1133.78 1150.59 1165.30 1177.91 1192.61 1201.02" y="445.46" font-size="25.212">Case 2</text><text x="1133.78 1150.59 1165.30 1177.91 1192.61 1201.02" y="485.42" font-size="25.212">Case 3</text><text x="1133.78 1150.59 1165.30 1177.91 1192.61 1201.02" y="525.38" font-size="25.212">Case 4</text><text x="1133.78 1150.59 1165.30 1177.91 1192.61 1201.02" y="565.34" font-size="25.212">Case 5</text><text x="1133.78 1150.59 1165.30 1177.91 1192.61 1201.02" y="605.30" font-size="25.212">Case 6</text><text x="1133.78 1150.59 1165.30 1177.91 1192.61 1201.02" y="645.26" font-size="25.212">Case 7</text><text x="1133.78 1150.59 1165.30 1177.91 1192.61 1201.02" y="685.22" font-size="25.212">Case 8</text><text x="1133.78 1150.59 1165.30 1177.91 1192.61 1201.02" y="725.18" font-size="25.212">Case 9</text><text x="1133.78 1150.59 1165.30 1177.91 1192.61 1201.02 1217.82" y="765.14" font-size="25.212">Case 10</text><text x="1133.78 1150.59 1165.30 1177.91 1192.61 1201.02 1217.82" y="805.10" font-size="25.212">Case 11</text></g>
<g transform="translate(1245.2 11) scale(1.0000 1.0000)">
<defs>
<linearGradient id="iba" x1="0" y1="0" x2="1" y2="0"><stop offset="0" stop-color="#7a9cec"/><stop offset="0.08" stop-color="#4a70dc"/><stop offset="0.16" stop-color="#1c3cb8"/><stop offset="0.6" stop-color="#2448c0"/><stop offset="0.88" stop-color="#06188a"/><stop offset="1" stop-color="#3a5cc8"/></linearGradient>
<linearGradient id="iia" x1="0" y1="0" x2="1" y2="0"><stop offset="0" stop-color="#f6f08a"/><stop offset="0.28" stop-color="#ffe840"/><stop offset="0.5" stop-color="#a8d890"/><stop offset="0.68" stop-color="#58a8f0"/><stop offset="1" stop-color="#1a48c8"/></linearGradient>
<linearGradient id="iva" x1="0" y1="0" x2="0" y2="1"><stop offset="0" stop-color="#1838b0" stop-opacity="0.55"/><stop offset="0.18" stop-color="#1838b0" stop-opacity="0"/><stop offset="0.8" stop-color="#0a2090" stop-opacity="0"/><stop offset="1" stop-color="#0a2090" stop-opacity="0.6"/></linearGradient>
<filter id="iha" x="-50%" y="-50%" width="200%" height="200%"><feGaussianBlur stdDeviation="2.6"/></filter>
</defs>
<rect x="-5" y="-4" width="40" height="32" rx="7" fill="#d4d4d4" opacity="0.45" filter="url(#iha)"/>
<rect x="-0.8" y="-0.8" width="31.2" height="24.1" rx="4.5" fill="#fffdf2"/>
<rect x="0" y="0" width="29.6" height="22.5" rx="4" fill="url(#iba)"/>
<rect x="5.9" y="3.0" width="20.8" height="16.6" fill="url(#iia)"/>
<path d="M5.9 4.5 L15.5 11.2 L5.9 18.2 Z" fill="#ffe438" opacity="0.85"/>
<rect x="14.5" y="12.6" width="12.2" height="2.6" fill="#4cc0ff" opacity="0.8"/>
<rect x="5.9" y="3.0" width="20.8" height="16.6" fill="url(#iva)"/>
</g>
<text x="643.5" y="978.3" text-anchor="middle" font-family="'Liberation Serif','Times New Roman',serif" font-size="47" fill="#000" stroke="#000" stroke-width="0.5">(a)</text>
<clipPath id="clipb"><rect x="143.2" y="1105.9" width="1148.0" height="776.0"/></clipPath>
<path d="M143.2 1105.9 V1881.9 M358.5 1105.9 V1881.9 M573.0 1105.9 V1881.9 M788.6 1105.9 V1881.9 M1005.0 1105.9 V1881.9 M1221.0 1105.9 V1881.9 M143.2 1881.6 H1291.2 M143.2 1811.3 H1291.2 M143.2 1740.6 H1291.2 M143.2 1670.0 H1291.2 M143.2 1599.5 H1291.2 M143.2 1528.7 H1291.2 M143.2 1458.0 H1291.2 M143.2 1387.4 H1291.2 M143.2 1317.2 H1291.2 M143.2 1248.9 H1291.2 M143.2 1177.7 H1291.2 M143.2 1107.0 H1291.2" stroke="#eeeeee" stroke-width="3.6" fill="none"/>
<g clip-path="url(#clipb)" fill="none" stroke-width="4.0" stroke-linejoin="round">
<path d="M143.2 1668.5 L147.5 1661.1 L151.8 1653.9 L156.1 1646.8 L160.4 1639.9 L164.7 1633.2 L169.0 1626.6 L173.3 1620.2 L177.6 1614.0 L182.0 1608.0 L186.3 1602.1 L190.6 1596.3 L194.9 1590.7 L199.2 1585.3 L203.5 1580.0 L207.8 1574.8 L212.1 1569.8 L216.4 1564.9 L220.7 1560.2 L225.0 1555.6 L229.3 1551.1 L233.6 1546.8 L237.9 1542.5 L242.2 1538.4 L246.5 1534.5 L250.8 1530.6 L255.2 1526.9 L259.5 1523.2 L263.8 1519.7 L268.1 1516.3 L272.4 1512.9 L276.7 1509.7 L281.0 1506.6 L285.3 1503.6 L289.6 1500.6 L293.9 1497.7 L298.2 1495.0 L302.5 1492.3 L306.8 1489.6 L311.1 1487.1 L315.4 1484.6 L319.7 1482.2 L324.1 1479.9 L328.4 1477.6 L332.7 1475.4 L337.0 1473.2 L341.3 1471.1 L345.6 1469.0 L349.9 1467.0 L354.2 1465.1 L358.5 1463.1 L362.8 1461.3 L367.1 1459.4 L371.4 1457.6 L375.7 1455.8 L379.9 1454.1 L384.2 1452.4 L388.5 1450.7 L392.8 1449.1 L397.1 1447.5 L401.4 1446.0 L405.7 1444.4 L410.0 1442.9 L414.3 1441.5 L418.6 1440.0 L422.9 1438.6 L427.1 1437.3 L431.4 1435.9 L435.7 1434.6 L440.0 1433.3 L444.3 1432.1 L448.6 1430.9 L452.9 1429.7 L457.2 1428.5 L461.5 1427.3 L465.8 1426.2 L470.0 1425.1 L474.3 1424.1 L478.6 1423.0 L482.9 1422.0 L487.2 1421.0 L491.5 1420.0 L495.8 1419.0 L500.1 1418.1 L504.4 1417.2 L508.6 1416.3 L512.9 1415.4 L517.2 1414.5 L521.5 1413.7 L525.8 1412.9 L530.1 1412.1 L534.4 1411.3 L538.7 1410.5 L543.0 1409.7 L547.3 1409.0 L551.5 1408.2 L555.8 1407.5 L560.1 1406.8 L564.4 1406.1 L568.7 1405.4 L573.0 1404.8 L577.3 1404.1 L581.6 1403.5 L585.9 1402.8 L590.2 1402.2 L594.6 1401.6 L598.9 1401.0 L603.2 1400.4 L607.5 1399.8 L611.8 1399.2 L616.1 1398.7 L620.4 1398.1 L624.7 1397.6 L629.1 1397.0 L633.4 1396.5 L637.7 1396.0 L642.0 1395.5 L646.3 1395.0 L650.6 1394.5 L654.9 1394.0 L659.2 1393.5 L663.6 1393.1 L667.9 1392.6 L672.2 1392.2 L676.5 1391.7 L680.8 1391.3 L685.1 1390.9 L689.4 1390.5 L693.7 1390.1 L698.0 1389.7 L702.4 1389.3 L706.7 1388.9 L711.0 1388.6 L715.3 1388.2 L719.6 1387.9 L723.9 1387.5 L728.2 1387.2 L732.5 1386.8 L736.9 1386.5 L741.2 1386.2 L745.5 1385.9 L749.8 1385.6 L754.1 1385.3 L758.4 1385.0 L762.7 1384.8 L767.0 1384.5 L771.4 1384.2 L775.7 1384.0 L780.0 1383.7 L784.3 1383.5 L788.6 1383.2 L792.9 1383.0 L797.3 1382.8 L801.6 1382.5 L805.9 1382.3 L810.2 1382.1 L814.6 1381.9 L818.9 1381.7 L823.2 1381.5 L827.6 1381.3 L831.9 1381.2 L836.2 1381.0 L840.5 1380.8 L844.9 1380.7 L849.2 1380.5 L853.5 1380.3 L857.8 1380.2 L862.2 1380.0 L866.5 1379.9 L870.8 1379.8 L875.2 1379.6 L879.5 1379.5 L883.8 1379.4 L888.1 1379.3 L892.5 1379.1 L896.8 1379.0 L901.1 1378.9 L905.5 1378.8 L909.8 1378.7 L914.1 1378.6 L918.4 1378.5 L922.8 1378.4 L927.1 1378.3 L931.4 1378.3 L935.8 1378.2 L940.1 1378.1 L944.4 1378.0 L948.7 1378.0 L953.1 1377.9 L957.4 1377.8 L961.7 1377.8 L966.0 1377.7 L970.4 1377.7 L974.7 1377.6 L979.0 1377.5 L983.4 1377.5 L987.7 1377.4 L992.0 1377.4 L996.3 1377.3 L1000.7 1377.3 L1005.0 1377.3 L1009.3 1377.2 L1013.6 1377.2 L1018.0 1377.1 L1022.3 1377.1 L1026.6 1377.1 L1030.9 1377.0 L1035.2 1377.0 L1039.6 1377.0 L1043.9 1377.0 L1048.2 1376.9 L1052.5 1376.9 L1056.8 1376.9 L1061.2 1376.8 L1065.5 1376.8 L1069.8 1376.8 L1074.1 1376.8 L1078.4 1376.7 L1082.8 1376.7 L1087.1 1376.7 L1091.4 1376.6 L1095.7 1376.6 L1100.0 1376.6 L1104.4 1376.6 L1108.7 1376.5 L1113.0 1376.5 L1117.3 1376.5 L1121.6 1376.4 L1126.0 1376.4 L1130.3 1376.4 L1134.6 1376.3 L1138.9 1376.3 L1143.2 1376.3 L1147.6 1376.2 L1151.9 1376.2 L1156.2 1376.2 L1160.5 1376.1 L1164.8 1376.1 L1169.2 1376.0 L1173.5 1376.0 L1177.8 1375.9 L1182.1 1375.9 L1186.4 1375.8 L1190.8 1375.8 L1195.1 1375.7 L1199.4 1375.6 L1203.7 1375.6 L1208.0 1375.5 L1212.4 1375.5 L1216.7 1375.4 L1221.0 1375.3 L1225.3 1375.2 L1229.6 1375.1 L1233.9 1375.1 L1238.2 1375.0 L1242.6 1374.9 L1246.9 1374.8 L1251.2 1374.7 L1255.5 1374.6 L1259.8 1374.5 L1264.1 1374.4" stroke="#0818e0"/>
<path d="M143.2 1770.9 L147.5 1761.1 L151.8 1751.5 L156.1 1742.0 L160.4 1732.7 L164.7 1723.5 L169.0 1714.5 L173.3 1705.5 L177.6 1696.8 L182.0 1688.1 L186.3 1679.6 L190.6 1671.3 L194.9 1663.1 L199.2 1655.0 L203.5 1647.1 L207.8 1639.3 L212.1 1631.7 L216.4 1624.2 L220.7 1616.9 L225.0 1609.6 L229.3 1602.6 L233.6 1595.6 L237.9 1588.7 L242.2 1582.0 L246.5 1575.4 L250.8 1569.0 L255.2 1562.6 L259.5 1556.4 L263.8 1550.3 L268.1 1544.3 L272.4 1538.5 L276.7 1532.7 L281.0 1527.1 L285.3 1521.6 L289.6 1516.2 L293.9 1511.0 L298.2 1505.8 L302.5 1500.8 L306.8 1495.8 L311.1 1491.0 L315.4 1486.3 L319.7 1481.6 L324.1 1477.1 L328.4 1472.7 L332.7 1468.3 L337.0 1464.1 L341.3 1460.0 L345.6 1455.9 L349.9 1452.0 L354.2 1448.2 L358.5 1444.4 L362.8 1440.7 L367.1 1437.2 L371.4 1433.7 L375.7 1430.2 L379.9 1426.9 L384.2 1423.7 L388.5 1420.5 L392.8 1417.4 L397.1 1414.4 L401.4 1411.5 L405.7 1408.6 L410.0 1405.8 L414.3 1403.1 L418.6 1400.4 L422.9 1397.9 L427.1 1395.3 L431.4 1392.9 L435.7 1390.5 L440.0 1388.2 L444.3 1385.9 L448.6 1383.7 L452.9 1381.6 L457.2 1379.5 L461.5 1377.5 L465.8 1375.5 L470.0 1373.6 L474.3 1371.7 L478.6 1369.9 L482.9 1368.2 L487.2 1366.4 L491.5 1364.8 L495.8 1363.1 L500.1 1361.5 L504.4 1360.0 L508.6 1358.5 L512.9 1357.0 L517.2 1355.5 L521.5 1354.1 L525.8 1352.7 L530.1 1351.4 L534.4 1350.1 L538.7 1348.8 L543.0 1347.5 L547.3 1346.3 L551.5 1345.1 L555.8 1343.9 L560.1 1342.7 L564.4 1341.6 L568.7 1340.5 L573.0 1339.4 L577.3 1338.3 L581.6 1337.2 L585.9 1336.1 L590.2 1335.1 L594.6 1334.0 L598.9 1333.0 L603.2 1332.0 L607.5 1331.0 L611.8 1330.1 L616.1 1329.1 L620.4 1328.2 L624.7 1327.2 L629.1 1326.3 L633.4 1325.4 L637.7 1324.5 L642.0 1323.6 L646.3 1322.8 L650.6 1321.9 L654.9 1321.1 L659.2 1320.3 L663.6 1319.5 L667.9 1318.7 L672.2 1317.9 L676.5 1317.1 L680.8 1316.4 L685.1 1315.6 L689.4 1314.9 L693.7 1314.2 L698.0 1313.5 L702.4 1312.9 L706.7 1312.2 L711.0 1311.5 L715.3 1310.9 L719.6 1310.3 L723.9 1309.6 L728.2 1309.0 L732.5 1308.4 L736.9 1307.8 L741.2 1307.3 L745.5 1306.7 L749.8 1306.1 L754.1 1305.6 L758.4 1305.0 L762.7 1304.5 L767.0 1304.0 L771.4 1303.5 L775.7 1303.0 L780.0 1302.5 L784.3 1302.0 L788.6 1301.6 L792.9 1301.1 L797.3 1300.6 L801.6 1300.2 L805.9 1299.8 L810.2 1299.3 L814.6 1298.9 L818.9 1298.5 L823.2 1298.1 L827.6 1297.7 L831.9 1297.3 L836.2 1297.0 L840.5 1296.6 L844.9 1296.2 L849.2 1295.9 L853.5 1295.6 L857.8 1295.2 L862.2 1294.9 L866.5 1294.6 L870.8 1294.3 L875.2 1293.9 L879.5 1293.6 L883.8 1293.3 L888.1 1293.1 L892.5 1292.8 L896.8 1292.5 L901.1 1292.2 L905.5 1292.0 L909.8 1291.7 L914.1 1291.5 L918.4 1291.2 L922.8 1291.0 L927.1 1290.8 L931.4 1290.5 L935.8 1290.3 L940.1 1290.1 L944.4 1289.9 L948.7 1289.7 L953.1 1289.5 L957.4 1289.3 L961.7 1289.1 L966.0 1288.9 L970.4 1288.7 L974.7 1288.5 L979.0 1288.4 L983.4 1288.2 L987.7 1288.0 L992.0 1287.8 L996.3 1287.7 L1000.7 1287.5 L1005.0 1287.4 L1009.3 1287.2 L1013.6 1287.1 L1018.0 1286.9 L1022.3 1286.8 L1026.6 1286.7 L1030.9 1286.5 L1035.2 1286.4 L1039.6 1286.3 L1043.9 1286.1 L1048.2 1286.0 L1052.5 1285.9 L1056.8 1285.8 L1061.2 1285.7 L1065.5 1285.5 L1069.8 1285.4 L1074.1 1285.3 L1078.4 1285.2 L1082.8 1285.1 L1087.1 1285.0 L1091.4 1284.9 L1095.7 1284.8 L1100.0 1284.7 L1104.4 1284.6 L1108.7 1284.5 L1113.0 1284.4 L1117.3 1284.3 L1121.6 1284.2 L1126.0 1284.0 L1130.3 1283.9 L1134.6 1283.8 L1138.9 1283.7 L1143.2 1283.6 L1147.6 1283.5 L1151.9 1283.4 L1156.2 1283.3 L1160.5 1283.2 L1164.8 1283.1 L1169.2 1283.0 L1173.5 1282.9 L1177.8 1282.8 L1182.1 1282.7 L1186.4 1282.6 L1190.8 1282.5 L1195.1 1282.3 L1199.4 1282.2 L1203.7 1282.1 L1208.0 1282.0 L1212.4 1281.9 L1216.7 1281.7 L1221.0 1281.6 L1225.3 1281.5 L1229.6 1281.3 L1233.9 1281.2 L1238.2 1281.1 L1242.6 1280.9 L1246.9 1280.8 L1251.2 1280.6 L1255.5 1280.5 L1259.8 1280.3 L1264.1 1280.2" stroke="#16a82a" stroke-dasharray="4.4 5.9"/>
<path d="M143.2 1707.7 L147.5 1697.4 L151.8 1687.2 L156.1 1677.1 L160.4 1667.2 L164.7 1657.5 L169.0 1647.9 L173.3 1638.4 L177.6 1629.1 L182.0 1620.0 L186.3 1611.0 L190.6 1602.1 L194.9 1593.4 L199.2 1584.7 L203.5 1576.3 L207.8 1567.9 L212.1 1559.7 L216.4 1551.7 L220.7 1543.7 L225.0 1535.9 L229.3 1528.3 L233.6 1520.8 L237.9 1513.4 L242.2 1506.1 L246.5 1499.0 L250.8 1492.0 L255.2 1485.1 L259.5 1478.3 L263.8 1471.7 L268.1 1465.1 L272.4 1458.7 L276.7 1452.5 L281.0 1446.3 L285.3 1440.2 L289.6 1434.3 L293.9 1428.5 L298.2 1422.8 L302.5 1417.2 L306.8 1411.7 L311.1 1406.3 L315.4 1401.0 L319.7 1395.8 L324.1 1390.7 L328.4 1385.8 L332.7 1380.9 L337.0 1376.1 L341.3 1371.5 L345.6 1366.9 L349.9 1362.4 L354.2 1358.1 L358.5 1353.8 L362.8 1349.6 L367.1 1345.5 L371.4 1341.4 L375.7 1337.5 L379.9 1333.6 L384.2 1329.8 L388.5 1326.1 L392.8 1322.5 L397.1 1319.0 L401.4 1315.6 L405.7 1312.3 L410.0 1309.1 L414.3 1305.9 L418.6 1302.8 L422.9 1299.8 L427.1 1296.9 L431.4 1294.0 L435.7 1291.2 L440.0 1288.4 L444.3 1285.7 L448.6 1283.1 L452.9 1280.5 L457.2 1278.0 L461.5 1275.5 L465.8 1273.1 L470.0 1270.8 L474.3 1268.5 L478.6 1266.2 L482.9 1264.0 L487.2 1261.9 L491.5 1259.8 L495.8 1257.7 L500.1 1255.7 L504.4 1253.8 L508.6 1251.8 L512.9 1249.9 L517.2 1248.1 L521.5 1246.2 L525.8 1244.3 L530.1 1242.5 L534.4 1240.7 L538.7 1239.0 L543.0 1237.3 L547.3 1235.6 L551.5 1234.0 L555.8 1232.3 L560.1 1230.7 L564.4 1229.2 L568.7 1227.6 L573.0 1226.1 L577.3 1224.6 L581.6 1223.1 L585.9 1221.7 L590.2 1220.2 L594.6 1218.8 L598.9 1217.4 L603.2 1216.0 L607.5 1214.7 L611.8 1213.4 L616.1 1212.0 L620.4 1210.7 L624.7 1209.5 L629.1 1208.2 L633.4 1207.0 L637.7 1205.8 L642.0 1204.6 L646.3 1203.4 L650.6 1202.2 L654.9 1201.1 L659.2 1199.9 L663.6 1198.8 L667.9 1197.8 L672.2 1196.7 L676.5 1195.6 L680.8 1194.6 L685.1 1193.6 L689.4 1192.6 L693.7 1191.6 L698.0 1190.6 L702.4 1189.7 L706.7 1188.7 L711.0 1187.8 L715.3 1186.9 L719.6 1186.0 L723.9 1185.2 L728.2 1184.3 L732.5 1183.5 L736.9 1182.6 L741.2 1181.8 L745.5 1181.0 L749.8 1180.3 L754.1 1179.5 L758.4 1178.7 L762.7 1178.0 L767.0 1177.3 L771.4 1176.6 L775.7 1175.9 L780.0 1175.2 L784.3 1174.5 L788.6 1173.9 L792.9 1173.3 L797.3 1172.6 L801.6 1172.0 L805.9 1171.4 L810.2 1170.8 L814.6 1170.3 L818.9 1169.7 L823.2 1169.2 L827.6 1168.6 L831.9 1168.1 L836.2 1167.6 L840.5 1167.1 L844.9 1166.6 L849.2 1166.1 L853.5 1165.6 L857.8 1165.2 L862.2 1164.7 L866.5 1164.3 L870.8 1163.8 L875.2 1163.4 L879.5 1163.0 L883.8 1162.6 L888.1 1162.2 L892.5 1161.8 L896.8 1161.4 L901.1 1161.1 L905.5 1160.7 L909.8 1160.4 L914.1 1160.0 L918.4 1159.7 L922.8 1159.4 L927.1 1159.0 L931.4 1158.7 L935.8 1158.4 L940.1 1158.1 L944.4 1157.8 L948.7 1157.6 L953.1 1157.3 L957.4 1157.0 L961.7 1156.8 L966.0 1156.5 L970.4 1156.3 L974.7 1156.0 L979.0 1155.8 L983.4 1155.6 L987.7 1155.3 L992.0 1155.1 L996.3 1154.9 L1000.7 1154.7 L1005.0 1154.5 L1009.3 1154.3 L1013.6 1154.1 L1018.0 1153.9 L1022.3 1153.7 L1026.6 1153.5 L1030.9 1153.3 L1035.2 1153.2 L1039.6 1153.0 L1043.9 1152.8 L1048.2 1152.7 L1052.5 1152.5 L1056.8 1152.3 L1061.2 1152.2 L1065.5 1152.0 L1069.8 1151.9 L1074.1 1151.7 L1078.4 1151.6 L1082.8 1151.4 L1087.1 1151.3 L1091.4 1151.1 L1095.7 1151.0 L1100.0 1150.9 L1104.4 1150.7 L1108.7 1150.6 L1113.0 1150.4 L1117.3 1150.3 L1121.6 1150.2 L1126.0 1150.0 L1130.3 1149.9 L1134.6 1149.7 L1138.9 1149.6 L1143.2 1149.5 L1147.6 1149.3 L1151.9 1149.2 L1156.2 1149.1 L1160.5 1148.9 L1164.8 1148.8 L1169.2 1148.6 L1173.5 1148.5 L1177.8 1148.3 L1182.1 1148.2 L1186.4 1148.0 L1190.8 1147.9 L1195.1 1147.7 L1199.4 1147.6 L1203.7 1147.4 L1208.0 1147.2 L1212.4 1147.1 L1216.7 1146.9 L1221.0 1146.7 L1225.3 1146.5 L1229.6 1146.3 L1233.9 1146.2 L1238.2 1146.0 L1242.6 1145.8 L1246.9 1145.6 L1251.2 1145.4 L1255.5 1145.2 L1259.8 1144.9 L1264.1 1144.7" stroke="#d00000" stroke-dasharray="33 7.5"/>
<path d="M143.2 1677.1 L147.5 1668.3 L151.8 1659.8 L156.1 1651.4 L160.4 1643.2 L164.7 1635.2 L169.0 1627.4 L173.3 1619.7 L177.6 1612.2 L182.0 1604.9 L186.3 1597.8 L190.6 1590.7 L194.9 1583.9 L199.2 1577.2 L203.5 1570.6 L207.8 1564.2 L212.1 1558.0 L216.4 1551.9 L220.7 1546.0 L225.0 1540.1 L229.3 1534.5 L233.6 1529.0 L237.9 1523.6 L242.2 1518.3 L246.5 1513.2 L250.8 1508.2 L255.2 1503.4 L259.5 1498.6 L263.8 1494.0 L268.1 1489.5 L272.4 1485.1 L276.7 1480.8 L281.0 1476.7 L285.3 1472.6 L289.6 1468.7 L293.9 1464.8 L298.2 1461.1 L302.5 1457.5 L306.8 1453.9 L311.1 1450.5 L315.4 1447.1 L319.7 1443.8 L324.1 1440.6 L328.4 1437.5 L332.7 1434.5 L337.0 1431.6 L341.3 1428.7 L345.6 1425.9 L349.9 1423.2 L354.2 1420.5 L358.5 1417.9 L362.8 1415.4 L367.1 1412.9 L371.4 1410.5 L375.7 1408.2 L379.9 1405.9 L384.2 1403.6 L388.5 1401.5 L392.8 1399.3 L397.1 1397.3 L401.4 1395.3 L405.7 1393.3 L410.0 1391.4 L414.3 1389.5 L418.6 1387.7 L422.9 1386.0 L427.1 1384.3 L431.4 1382.6 L435.7 1381.0 L440.0 1379.4 L444.3 1377.9 L448.6 1376.4 L452.9 1375.0 L457.2 1373.5 L461.5 1372.2 L465.8 1370.8 L470.0 1369.5 L474.3 1368.3 L478.6 1367.1 L482.9 1365.9 L487.2 1364.7 L491.5 1363.6 L495.8 1362.5 L500.1 1361.4 L504.4 1360.4 L508.6 1359.3 L512.9 1358.3 L517.2 1357.4 L521.5 1356.4 L525.8 1355.5 L530.1 1354.6 L534.4 1353.7 L538.7 1352.9 L543.0 1352.0 L547.3 1351.2 L551.5 1350.4 L555.8 1349.6 L560.1 1348.8 L564.4 1348.0 L568.7 1347.3 L573.0 1346.5 L577.3 1345.8 L581.6 1345.1 L585.9 1344.4 L590.2 1343.7 L594.6 1343.0 L598.9 1342.3 L603.2 1341.6 L607.5 1340.9 L611.8 1340.3 L616.1 1339.6 L620.4 1339.0 L624.7 1338.3 L629.1 1337.7 L633.4 1337.1 L637.7 1336.5 L642.0 1335.9 L646.3 1335.3 L650.6 1334.7 L654.9 1334.1 L659.2 1333.6 L663.6 1333.0 L667.9 1332.5 L672.2 1331.9 L676.5 1331.4 L680.8 1330.9 L685.1 1330.4 L689.4 1329.8 L693.7 1329.3 L698.0 1328.9 L702.4 1328.4 L706.7 1327.9 L711.0 1327.4 L715.3 1327.0 L719.6 1326.5 L723.9 1326.1 L728.2 1325.6 L732.5 1325.2 L736.9 1324.8 L741.2 1324.4 L745.5 1323.9 L749.8 1323.5 L754.1 1323.1 L758.4 1322.8 L762.7 1322.4 L767.0 1322.0 L771.4 1321.6 L775.7 1321.3 L780.0 1320.9 L784.3 1320.6 L788.6 1320.2 L792.9 1319.9 L797.3 1319.5 L801.6 1319.2 L805.9 1318.9 L810.2 1318.6 L814.6 1318.3 L818.9 1318.0 L823.2 1317.7 L827.6 1317.4 L831.9 1317.1 L836.2 1316.8 L840.5 1316.6 L844.9 1316.3 L849.2 1316.1 L853.5 1315.8 L857.8 1315.6 L862.2 1315.3 L866.5 1315.1 L870.8 1314.9 L875.2 1314.6 L879.5 1314.4 L883.8 1314.2 L888.1 1314.0 L892.5 1313.8 L896.8 1313.6 L901.1 1313.4 L905.5 1313.2 L909.8 1313.0 L914.1 1312.8 L918.4 1312.7 L922.8 1312.5 L927.1 1312.3 L931.4 1312.1 L935.8 1312.0 L940.1 1311.8 L944.4 1311.7 L948.7 1311.5 L953.1 1311.4 L957.4 1311.2 L961.7 1311.1 L966.0 1310.9 L970.4 1310.8 L974.7 1310.7 L979.0 1310.6 L983.4 1310.4 L987.7 1310.3 L992.0 1310.2 L996.3 1310.1 L1000.7 1310.0 L1005.0 1309.9 L1009.3 1309.8 L1013.6 1309.7 L1018.0 1309.6 L1022.3 1309.5 L1026.6 1309.4 L1030.9 1309.3 L1035.2 1309.2 L1039.6 1309.1 L1043.9 1309.0 L1048.2 1308.9 L1052.5 1308.8 L1056.8 1308.8 L1061.2 1308.7 L1065.5 1308.6 L1069.8 1308.5 L1074.1 1308.5 L1078.4 1308.4 L1082.8 1308.3 L1087.1 1308.3 L1091.4 1308.2 L1095.7 1308.1 L1100.0 1308.1 L1104.4 1308.0 L1108.7 1308.0 L1113.0 1307.9 L1117.3 1307.9 L1121.6 1307.8 L1126.0 1307.7 L1130.3 1307.7 L1134.6 1307.6 L1138.9 1307.6 L1143.2 1307.5 L1147.6 1307.5 L1151.9 1307.4 L1156.2 1307.4 L1160.5 1307.3 L1164.8 1307.3 L1169.2 1307.3 L1173.5 1307.2 L1177.8 1307.2 L1182.1 1307.1 L1186.4 1307.1 L1190.8 1307.0 L1195.1 1307.0 L1199.4 1306.9 L1203.7 1306.9 L1208.0 1306.8 L1212.4 1306.8 L1216.7 1306.7 L1221.0 1306.7 L1225.3 1306.7 L1229.6 1306.6 L1233.9 1306.6 L1238.2 1306.5 L1242.6 1306.5 L1246.9 1306.4 L1251.2 1306.4 L1255.5 1306.3 L1259.8 1306.2 L1264.1 1306.2" stroke="#00c8c8" stroke-dasharray="32 6.5 4 5"/>
<path d="M143.2 1798.3 L147.5 1789.0 L151.8 1779.7 L156.1 1770.5 L160.4 1761.4 L164.7 1752.4 L169.0 1743.6 L173.3 1734.9 L177.6 1726.5 L182.0 1718.2 L186.3 1710.0 L190.6 1702.1 L194.9 1694.3 L199.2 1686.6 L203.5 1679.2 L207.8 1671.9 L212.1 1664.7 L216.4 1657.7 L220.7 1650.9 L225.0 1644.2 L229.3 1637.7 L233.6 1631.3 L237.9 1625.0 L242.2 1618.9 L246.5 1612.9 L250.8 1607.1 L255.2 1601.4 L259.5 1595.8 L263.8 1590.4 L268.1 1585.0 L272.4 1579.8 L276.7 1574.7 L281.0 1569.8 L285.3 1564.9 L289.6 1560.2 L293.9 1555.5 L298.2 1551.0 L302.5 1546.6 L306.8 1542.3 L311.1 1538.2 L315.4 1534.1 L319.7 1530.1 L324.1 1526.2 L328.4 1522.4 L332.7 1518.7 L337.0 1515.1 L341.3 1511.6 L345.6 1508.2 L349.9 1504.8 L354.2 1501.5 L358.5 1498.4 L362.8 1495.2 L367.1 1492.2 L371.4 1489.2 L375.7 1486.3 L379.9 1483.5 L384.2 1480.8 L388.5 1478.1 L392.8 1475.5 L397.1 1472.9 L401.4 1470.5 L405.7 1468.0 L410.0 1465.7 L414.3 1463.4 L418.6 1461.2 L422.9 1459.0 L427.1 1456.9 L431.4 1454.8 L435.7 1452.8 L440.0 1450.9 L444.3 1449.0 L448.6 1447.1 L452.9 1445.3 L457.2 1443.6 L461.5 1441.9 L465.8 1440.2 L470.0 1438.6 L474.3 1437.1 L478.6 1435.5 L482.9 1434.1 L487.2 1432.6 L491.5 1431.2 L495.8 1429.8 L500.1 1428.5 L504.4 1427.2 L508.6 1426.0 L512.9 1424.7 L517.2 1423.5 L521.5 1422.4 L525.8 1421.2 L530.1 1420.1 L534.4 1419.0 L538.7 1417.9 L543.0 1416.9 L547.3 1415.9 L551.5 1414.9 L555.8 1413.9 L560.1 1412.9 L564.4 1412.0 L568.7 1411.1 L573.0 1410.1 L577.3 1409.2 L581.6 1408.4 L585.9 1407.5 L590.2 1406.6 L594.6 1405.8 L598.9 1404.9 L603.2 1404.1 L607.5 1403.3 L611.8 1402.5 L616.1 1401.7 L620.4 1400.9 L624.7 1400.2 L629.1 1399.4 L633.4 1398.7 L637.7 1397.9 L642.0 1397.2 L646.3 1396.5 L650.6 1395.8 L654.9 1395.1 L659.2 1394.5 L663.6 1393.8 L667.9 1393.2 L672.2 1392.5 L676.5 1391.9 L680.8 1391.3 L685.1 1390.7 L689.4 1390.1 L693.7 1389.5 L698.0 1388.9 L702.4 1388.3 L706.7 1387.8 L711.0 1387.2 L715.3 1386.7 L719.6 1386.2 L723.9 1385.7 L728.2 1385.2 L732.5 1384.7 L736.9 1384.2 L741.2 1383.7 L745.5 1383.2 L749.8 1382.8 L754.1 1382.3 L758.4 1381.9 L762.7 1381.4 L767.0 1381.0 L771.4 1380.6 L775.7 1380.2 L780.0 1379.8 L784.3 1379.4 L788.6 1379.0 L792.9 1378.6 L797.3 1378.3 L801.6 1377.9 L805.9 1377.5 L810.2 1377.2 L814.6 1376.9 L818.9 1376.5 L823.2 1376.2 L827.6 1375.9 L831.9 1375.6 L836.2 1375.3 L840.5 1375.0 L844.9 1374.7 L849.2 1374.4 L853.5 1374.1 L857.8 1373.9 L862.2 1373.6 L866.5 1373.3 L870.8 1373.1 L875.2 1372.8 L879.5 1372.6 L883.8 1372.4 L888.1 1372.1 L892.5 1371.9 L896.8 1371.7 L901.1 1371.5 L905.5 1371.3 L909.8 1371.1 L914.1 1370.9 L918.4 1370.7 L922.8 1370.5 L927.1 1370.3 L931.4 1370.1 L935.8 1370.0 L940.1 1369.8 L944.4 1369.6 L948.7 1369.5 L953.1 1369.3 L957.4 1369.2 L961.7 1369.0 L966.0 1368.9 L970.4 1368.7 L974.7 1368.6 L979.0 1368.4 L983.4 1368.3 L987.7 1368.2 L992.0 1368.1 L996.3 1367.9 L1000.7 1367.8 L1005.0 1367.7 L1009.3 1367.6 L1013.6 1367.5 L1018.0 1367.4 L1022.3 1367.3 L1026.6 1367.2 L1030.9 1367.1 L1035.2 1367.0 L1039.6 1366.9 L1043.9 1366.8 L1048.2 1366.7 L1052.5 1366.6 L1056.8 1366.5 L1061.2 1366.4 L1065.5 1366.3 L1069.8 1366.2 L1074.1 1366.2 L1078.4 1366.1 L1082.8 1366.0 L1087.1 1365.9 L1091.4 1365.8 L1095.7 1365.8 L1100.0 1365.7 L1104.4 1365.6 L1108.7 1365.5 L1113.0 1365.4 L1117.3 1365.4 L1121.6 1365.3 L1126.0 1365.2 L1130.3 1365.1 L1134.6 1365.1 L1138.9 1365.0 L1143.2 1364.9 L1147.6 1364.8 L1151.9 1364.7 L1156.2 1364.7 L1160.5 1364.6 L1164.8 1364.5 L1169.2 1364.4 L1173.5 1364.3 L1177.8 1364.2 L1182.1 1364.2 L1186.4 1364.1 L1190.8 1364.0 L1195.1 1363.9 L1199.4 1363.8 L1203.7 1363.7 L1208.0 1363.6 L1212.4 1363.5 L1216.7 1363.4 L1221.0 1363.3 L1225.3 1363.2 L1229.6 1363.1 L1233.9 1363.0 L1238.2 1362.9 L1242.6 1362.7 L1246.9 1362.6 L1251.2 1362.5 L1255.5 1362.4 L1259.8 1362.2 L1264.1 1362.1" stroke="#b000b8"/>
<path d="M143.2 1663.7 L147.5 1655.2 L151.8 1646.9 L156.1 1638.7 L160.4 1630.7 L164.7 1622.8 L169.0 1615.0 L173.3 1607.3 L177.6 1599.8 L182.0 1592.4 L186.3 1585.1 L190.6 1577.9 L194.9 1570.9 L199.2 1564.0 L203.5 1557.2 L207.8 1550.5 L212.1 1544.0 L216.4 1537.6 L220.7 1531.3 L225.0 1525.1 L229.3 1519.0 L233.6 1513.1 L237.9 1507.3 L242.2 1501.5 L246.5 1495.9 L250.8 1490.4 L255.2 1485.1 L259.5 1479.8 L263.8 1474.6 L268.1 1469.5 L272.4 1464.6 L276.7 1459.7 L281.0 1454.9 L285.3 1450.3 L289.6 1445.7 L293.9 1441.3 L298.2 1436.9 L302.5 1432.6 L306.8 1428.4 L311.1 1424.3 L315.4 1420.3 L319.7 1416.4 L324.1 1412.6 L328.4 1408.9 L332.7 1405.2 L337.0 1401.7 L341.3 1398.2 L345.6 1394.8 L349.9 1391.5 L354.2 1388.2 L358.5 1385.1 L362.8 1382.0 L367.1 1379.0 L371.4 1376.1 L375.7 1373.2 L379.9 1370.4 L384.2 1367.7 L388.5 1365.1 L392.8 1362.5 L397.1 1360.0 L401.4 1357.5 L405.7 1355.1 L410.0 1352.8 L414.3 1350.5 L418.6 1348.3 L422.9 1346.2 L427.1 1344.1 L431.4 1342.1 L435.7 1340.1 L440.0 1338.2 L444.3 1336.3 L448.6 1334.4 L452.9 1332.7 L457.2 1330.9 L461.5 1329.2 L465.8 1327.6 L470.0 1326.0 L474.3 1324.4 L478.6 1322.9 L482.9 1321.4 L487.2 1320.0 L491.5 1318.6 L495.8 1317.2 L500.1 1316.0 L504.4 1314.7 L508.6 1313.5 L512.9 1312.3 L517.2 1311.1 L521.5 1309.9 L525.8 1308.8 L530.1 1307.7 L534.4 1306.7 L538.7 1305.6 L543.0 1304.6 L547.3 1303.6 L551.5 1302.6 L555.8 1301.6 L560.1 1300.7 L564.4 1299.7 L568.7 1298.8 L573.0 1297.9 L577.3 1297.0 L581.6 1296.1 L585.9 1295.2 L590.2 1294.3 L594.6 1293.5 L598.9 1292.6 L603.2 1291.8 L607.5 1291.0 L611.8 1290.1 L616.1 1289.3 L620.4 1288.5 L624.7 1287.7 L629.1 1287.0 L633.4 1286.2 L637.7 1285.4 L642.0 1284.7 L646.3 1284.0 L650.6 1283.2 L654.9 1282.5 L659.2 1281.8 L663.6 1281.1 L667.9 1280.4 L672.2 1279.8 L676.5 1279.1 L680.8 1278.4 L685.1 1277.8 L689.4 1277.1 L693.7 1276.5 L698.0 1275.9 L702.4 1275.3 L706.7 1274.7 L711.0 1274.1 L715.3 1273.5 L719.6 1272.9 L723.9 1272.3 L728.2 1271.8 L732.5 1271.2 L736.9 1270.7 L741.2 1270.1 L745.5 1269.6 L749.8 1269.1 L754.1 1268.6 L758.4 1268.1 L762.7 1267.6 L767.0 1267.1 L771.4 1266.6 L775.7 1266.1 L780.0 1265.6 L784.3 1265.2 L788.6 1264.7 L792.9 1264.3 L797.3 1263.9 L801.6 1263.4 L805.9 1263.0 L810.2 1262.6 L814.6 1262.2 L818.9 1261.8 L823.2 1261.4 L827.6 1261.0 L831.9 1260.6 L836.2 1260.2 L840.5 1259.9 L844.9 1259.5 L849.2 1259.2 L853.5 1258.8 L857.8 1258.5 L862.2 1258.1 L866.5 1257.8 L870.8 1257.5 L875.2 1257.2 L879.5 1256.8 L883.8 1256.5 L888.1 1256.2 L892.5 1255.9 L896.8 1255.7 L901.1 1255.4 L905.5 1255.1 L909.8 1254.8 L914.1 1254.6 L918.4 1254.3 L922.8 1254.0 L927.1 1253.8 L931.4 1253.5 L935.8 1253.3 L940.1 1253.1 L944.4 1252.8 L948.7 1252.6 L953.1 1252.4 L957.4 1252.2 L961.7 1251.9 L966.0 1251.7 L970.4 1251.5 L974.7 1251.3 L979.0 1251.1 L983.4 1250.9 L987.7 1250.8 L992.0 1250.6 L996.3 1250.4 L1000.7 1250.2 L1005.0 1250.0 L1009.3 1249.9 L1013.6 1249.7 L1018.0 1249.5 L1022.3 1249.4 L1026.6 1249.2 L1030.9 1249.1 L1035.2 1248.9 L1039.6 1248.8 L1043.9 1248.6 L1048.2 1248.5 L1052.5 1248.3 L1056.8 1248.2 L1061.2 1248.1 L1065.5 1247.9 L1069.8 1247.8 L1074.1 1247.7 L1078.4 1247.5 L1082.8 1247.4 L1087.1 1247.3 L1091.4 1247.2 L1095.7 1247.1 L1100.0 1246.9 L1104.4 1246.8 L1108.7 1246.7 L1113.0 1246.6 L1117.3 1246.5 L1121.6 1246.4 L1126.0 1246.3 L1130.3 1246.2 L1134.6 1246.1 L1138.9 1246.0 L1143.2 1245.9 L1147.6 1245.8 L1151.9 1245.7 L1156.2 1245.6 L1160.5 1245.5 L1164.8 1245.4 L1169.2 1245.4 L1173.5 1245.3 L1177.8 1245.2 L1182.1 1245.1 L1186.4 1245.0 L1190.8 1244.9 L1195.1 1244.8 L1199.4 1244.7 L1203.7 1244.7 L1208.0 1244.6 L1212.4 1244.5 L1216.7 1244.4 L1221.0 1244.3 L1225.3 1244.2 L1229.6 1244.2 L1233.9 1244.1 L1238.2 1244.0 L1242.6 1243.9 L1246.9 1243.8 L1251.2 1243.7 L1255.5 1243.6 L1259.8 1243.6 L1264.1 1243.5" stroke="#ffb400" stroke-dasharray="4.4 5.9"/>
<path d="M143.2 1646.5 L147.5 1638.2 L151.8 1630.1 L156.1 1622.2 L160.4 1614.4 L164.7 1606.7 L169.0 1599.3 L173.3 1591.9 L177.6 1584.7 L182.0 1577.6 L186.3 1570.7 L190.6 1563.9 L194.9 1557.3 L199.2 1550.8 L203.5 1544.5 L207.8 1538.3 L212.1 1532.2 L216.4 1526.2 L220.7 1520.4 L225.0 1514.7 L229.3 1509.2 L233.6 1503.8 L237.9 1498.5 L242.2 1493.3 L246.5 1488.2 L250.8 1483.3 L255.2 1478.4 L259.5 1473.7 L263.8 1469.1 L268.1 1464.6 L272.4 1460.2 L276.7 1455.9 L281.0 1451.7 L285.3 1447.6 L289.6 1443.6 L293.9 1439.7 L298.2 1435.9 L302.5 1432.2 L306.8 1428.6 L311.1 1425.1 L315.4 1421.6 L319.7 1418.3 L324.1 1415.0 L328.4 1411.8 L332.7 1408.7 L337.0 1405.6 L341.3 1402.6 L345.6 1399.7 L349.9 1396.9 L354.2 1394.2 L358.5 1391.5 L362.8 1388.8 L367.1 1386.3 L371.4 1383.8 L375.7 1381.3 L379.9 1379.0 L384.2 1376.6 L388.5 1374.4 L392.8 1372.2 L397.1 1370.0 L401.4 1367.9 L405.7 1365.9 L410.0 1363.9 L414.3 1362.0 L418.6 1360.1 L422.9 1358.2 L427.1 1356.4 L431.4 1354.7 L435.7 1353.0 L440.0 1351.3 L444.3 1349.7 L448.6 1348.2 L452.9 1346.6 L457.2 1345.1 L461.5 1343.7 L465.8 1342.3 L470.0 1340.9 L474.3 1339.6 L478.6 1338.3 L482.9 1337.0 L487.2 1335.8 L491.5 1334.6 L495.8 1333.4 L500.1 1332.3 L504.4 1331.2 L508.6 1330.1 L512.9 1329.0 L517.2 1328.0 L521.5 1327.0 L525.8 1326.0 L530.1 1325.1 L534.4 1324.1 L538.7 1323.2 L543.0 1322.3 L547.3 1321.5 L551.5 1320.6 L555.8 1319.8 L560.1 1318.9 L564.4 1318.1 L568.7 1317.3 L573.0 1316.6 L577.3 1315.8 L581.6 1315.1 L585.9 1314.4 L590.2 1313.6 L594.6 1312.9 L598.9 1312.2 L603.2 1311.5 L607.5 1310.9 L611.8 1310.2 L616.1 1309.6 L620.4 1308.9 L624.7 1308.3 L629.1 1307.7 L633.4 1307.1 L637.7 1306.4 L642.0 1305.9 L646.3 1305.3 L650.6 1304.7 L654.9 1304.1 L659.2 1303.6 L663.6 1303.0 L667.9 1302.5 L672.2 1302.0 L676.5 1301.5 L680.8 1301.0 L685.1 1300.5 L689.4 1300.0 L693.7 1299.5 L698.0 1299.0 L702.4 1298.6 L706.7 1298.1 L711.0 1297.7 L715.3 1297.2 L719.6 1296.8 L723.9 1296.4 L728.2 1296.0 L732.5 1295.6 L736.9 1295.2 L741.2 1294.8 L745.5 1294.4 L749.8 1294.0 L754.1 1293.7 L758.4 1293.3 L762.7 1293.0 L767.0 1292.6 L771.4 1292.3 L775.7 1291.9 L780.0 1291.6 L784.3 1291.3 L788.6 1291.0 L792.9 1290.7 L797.3 1290.4 L801.6 1290.1 L805.9 1289.8 L810.2 1289.6 L814.6 1289.3 L818.9 1289.0 L823.2 1288.8 L827.6 1288.5 L831.9 1288.3 L836.2 1288.0 L840.5 1287.8 L844.9 1287.6 L849.2 1287.4 L853.5 1287.2 L857.8 1286.9 L862.2 1286.7 L866.5 1286.5 L870.8 1286.3 L875.2 1286.2 L879.5 1286.0 L883.8 1285.8 L888.1 1285.6 L892.5 1285.4 L896.8 1285.3 L901.1 1285.1 L905.5 1285.0 L909.8 1284.8 L914.1 1284.7 L918.4 1284.5 L922.8 1284.4 L927.1 1284.3 L931.4 1284.1 L935.8 1284.0 L940.1 1283.9 L944.4 1283.8 L948.7 1283.6 L953.1 1283.5 L957.4 1283.4 L961.7 1283.3 L966.0 1283.2 L970.4 1283.1 L974.7 1283.0 L979.0 1282.9 L983.4 1282.8 L987.7 1282.7 L992.0 1282.7 L996.3 1282.6 L1000.7 1282.5 L1005.0 1282.4 L1009.3 1282.3 L1013.6 1282.3 L1018.0 1282.2 L1022.3 1282.1 L1026.6 1282.1 L1030.9 1282.0 L1035.2 1281.9 L1039.6 1281.9 L1043.9 1281.8 L1048.2 1281.7 L1052.5 1281.7 L1056.8 1281.6 L1061.2 1281.6 L1065.5 1281.5 L1069.8 1281.5 L1074.1 1281.4 L1078.4 1281.4 L1082.8 1281.3 L1087.1 1281.3 L1091.4 1281.2 L1095.7 1281.2 L1100.0 1281.1 L1104.4 1281.1 L1108.7 1281.0 L1113.0 1281.0 L1117.3 1280.9 L1121.6 1280.9 L1126.0 1280.8 L1130.3 1280.8 L1134.6 1280.8 L1138.9 1280.7 L1143.2 1280.7 L1147.6 1280.6 L1151.9 1280.6 L1156.2 1280.5 L1160.5 1280.5 L1164.8 1280.4 L1169.2 1280.4 L1173.5 1280.3 L1177.8 1280.2 L1182.1 1280.2 L1186.4 1280.1 L1190.8 1280.1 L1195.1 1280.0 L1199.4 1279.9 L1203.7 1279.9 L1208.0 1279.8 L1212.4 1279.7 L1216.7 1279.7 L1221.0 1279.6 L1225.3 1279.5 L1229.6 1279.5 L1233.9 1279.4 L1238.2 1279.3 L1242.6 1279.2 L1246.9 1279.1 L1251.2 1279.0 L1255.5 1278.9 L1259.8 1278.9 L1264.1 1278.8" stroke="#000000" stroke-dasharray="33 7.5"/>
<path d="M143.2 1668.1 L147.5 1660.5 L151.8 1653.0 L156.1 1645.7 L160.4 1638.5 L164.7 1631.5 L169.0 1624.7 L173.3 1618.0 L177.6 1611.4 L182.0 1605.0 L186.3 1598.7 L190.6 1592.6 L194.9 1586.5 L199.2 1580.7 L203.5 1574.9 L207.8 1569.3 L212.1 1563.8 L216.4 1558.4 L220.7 1553.2 L225.0 1548.0 L229.3 1543.0 L233.6 1538.1 L237.9 1533.4 L242.2 1528.7 L246.5 1524.2 L250.8 1519.7 L255.2 1515.4 L259.5 1511.2 L263.8 1507.1 L268.1 1503.1 L272.4 1499.2 L276.7 1495.3 L281.0 1491.6 L285.3 1488.0 L289.6 1484.5 L293.9 1481.0 L298.2 1477.6 L302.5 1474.4 L306.8 1471.2 L311.1 1468.1 L315.4 1465.0 L319.7 1462.1 L324.1 1459.2 L328.4 1456.4 L332.7 1453.6 L337.0 1451.0 L341.3 1448.4 L345.6 1445.8 L349.9 1443.3 L354.2 1440.9 L358.5 1438.5 L362.8 1436.2 L367.1 1434.0 L371.4 1431.8 L375.7 1429.6 L379.9 1427.5 L384.2 1425.5 L388.5 1423.5 L392.8 1421.6 L397.1 1419.7 L401.4 1417.8 L405.7 1416.0 L410.0 1414.2 L414.3 1412.5 L418.6 1410.8 L422.9 1409.2 L427.1 1407.6 L431.4 1406.1 L435.7 1404.6 L440.0 1403.1 L444.3 1401.7 L448.6 1400.3 L452.9 1398.9 L457.2 1397.6 L461.5 1396.3 L465.8 1395.1 L470.0 1393.8 L474.3 1392.7 L478.6 1391.5 L482.9 1390.4 L487.2 1389.3 L491.5 1388.2 L495.8 1387.2 L500.1 1386.1 L504.4 1385.2 L508.6 1384.2 L512.9 1383.3 L517.2 1382.3 L521.5 1381.4 L525.8 1380.6 L530.1 1379.7 L534.4 1378.9 L538.7 1378.1 L543.0 1377.3 L547.3 1376.5 L551.5 1375.7 L555.8 1375.0 L560.1 1374.2 L564.4 1373.5 L568.7 1372.8 L573.0 1372.1 L577.3 1371.4 L581.6 1370.7 L585.9 1370.0 L590.2 1369.3 L594.6 1368.7 L598.9 1368.0 L603.2 1367.4 L607.5 1366.8 L611.8 1366.2 L616.1 1365.6 L620.4 1365.0 L624.7 1364.4 L629.1 1363.8 L633.4 1363.2 L637.7 1362.6 L642.0 1362.1 L646.3 1361.5 L650.6 1361.0 L654.9 1360.5 L659.2 1360.0 L663.6 1359.4 L667.9 1358.9 L672.2 1358.4 L676.5 1358.0 L680.8 1357.5 L685.1 1357.0 L689.4 1356.5 L693.7 1356.1 L698.0 1355.6 L702.4 1355.2 L706.7 1354.8 L711.0 1354.3 L715.3 1353.9 L719.6 1353.5 L723.9 1353.1 L728.2 1352.7 L732.5 1352.3 L736.9 1352.0 L741.2 1351.6 L745.5 1351.2 L749.8 1350.9 L754.1 1350.5 L758.4 1350.2 L762.7 1349.8 L767.0 1349.5 L771.4 1349.2 L775.7 1348.8 L780.0 1348.5 L784.3 1348.2 L788.6 1347.9 L792.9 1347.6 L797.3 1347.3 L801.6 1347.1 L805.9 1346.8 L810.2 1346.5 L814.6 1346.2 L818.9 1346.0 L823.2 1345.7 L827.6 1345.5 L831.9 1345.2 L836.2 1345.0 L840.5 1344.8 L844.9 1344.5 L849.2 1344.3 L853.5 1344.1 L857.8 1343.9 L862.2 1343.7 L866.5 1343.5 L870.8 1343.3 L875.2 1343.1 L879.5 1342.9 L883.8 1342.7 L888.1 1342.5 L892.5 1342.4 L896.8 1342.2 L901.1 1342.0 L905.5 1341.9 L909.8 1341.7 L914.1 1341.5 L918.4 1341.4 L922.8 1341.3 L927.1 1341.1 L931.4 1341.0 L935.8 1340.8 L940.1 1340.7 L944.4 1340.6 L948.7 1340.4 L953.1 1340.3 L957.4 1340.2 L961.7 1340.1 L966.0 1340.0 L970.4 1339.9 L974.7 1339.8 L979.0 1339.7 L983.4 1339.6 L987.7 1339.5 L992.0 1339.4 L996.3 1339.3 L1000.7 1339.2 L1005.0 1339.1 L1009.3 1339.0 L1013.6 1338.9 L1018.0 1338.8 L1022.3 1338.8 L1026.6 1338.7 L1030.9 1338.6 L1035.2 1338.5 L1039.6 1338.5 L1043.9 1338.4 L1048.2 1338.3 L1052.5 1338.3 L1056.8 1338.2 L1061.2 1338.1 L1065.5 1338.1 L1069.8 1338.0 L1074.1 1337.9 L1078.4 1337.9 L1082.8 1337.8 L1087.1 1337.8 L1091.4 1337.7 L1095.7 1337.7 L1100.0 1337.6 L1104.4 1337.5 L1108.7 1337.5 L1113.0 1337.4 L1117.3 1337.4 L1121.6 1337.3 L1126.0 1337.3 L1130.3 1337.2 L1134.6 1337.2 L1138.9 1337.1 L1143.2 1337.1 L1147.6 1337.0 L1151.9 1337.0 L1156.2 1336.9 L1160.5 1336.9 L1164.8 1336.8 L1169.2 1336.8 L1173.5 1336.7 L1177.8 1336.6 L1182.1 1336.6 L1186.4 1336.5 L1190.8 1336.5 L1195.1 1336.4 L1199.4 1336.3 L1203.7 1336.3 L1208.0 1336.2 L1212.4 1336.2 L1216.7 1336.1 L1221.0 1336.0 L1225.3 1336.0 L1229.6 1335.9 L1233.9 1335.8 L1238.2 1335.7 L1242.6 1335.7 L1246.9 1335.6 L1251.2 1335.5 L1255.5 1335.4 L1259.8 1335.4 L1264.1 1335.3" stroke="#0818e0" stroke-dasharray="32 6.5 4 5"/>
<path d="M143.2 1655.1 L147.5 1648.2 L151.8 1641.5 L156.1 1634.9 L160.4 1628.4 L164.7 1622.1 L169.0 1616.0 L173.3 1610.0 L177.6 1604.1 L182.0 1598.4 L186.3 1592.8 L190.6 1587.4 L194.9 1582.1 L199.2 1576.9 L203.5 1571.9 L207.8 1566.9 L212.1 1562.1 L216.4 1557.5 L220.7 1552.9 L225.0 1548.5 L229.3 1544.2 L233.6 1540.0 L237.9 1535.9 L242.2 1531.9 L246.5 1528.1 L250.8 1524.3 L255.2 1520.7 L259.5 1517.1 L263.8 1513.7 L268.1 1510.3 L272.4 1507.0 L276.7 1503.9 L281.0 1500.8 L285.3 1497.8 L289.6 1494.9 L293.9 1492.0 L298.2 1489.3 L302.5 1486.6 L306.8 1484.0 L311.1 1481.5 L315.4 1479.0 L319.7 1476.6 L324.1 1474.3 L328.4 1472.0 L332.7 1469.8 L337.0 1467.7 L341.3 1465.6 L345.6 1463.6 L349.9 1461.6 L354.2 1459.6 L358.5 1457.7 L362.8 1455.9 L367.1 1454.1 L371.4 1452.3 L375.7 1450.6 L379.9 1448.9 L384.2 1447.3 L388.5 1445.7 L392.8 1444.1 L397.1 1442.6 L401.4 1441.1 L405.7 1439.7 L410.0 1438.3 L414.3 1436.9 L418.6 1435.5 L422.9 1434.2 L427.1 1433.0 L431.4 1431.7 L435.7 1430.5 L440.0 1429.3 L444.3 1428.2 L448.6 1427.1 L452.9 1426.0 L457.2 1424.9 L461.5 1423.9 L465.8 1422.9 L470.0 1421.9 L474.3 1420.9 L478.6 1420.0 L482.9 1419.1 L487.2 1418.2 L491.5 1417.4 L495.8 1416.5 L500.1 1415.7 L504.4 1414.9 L508.6 1414.1 L512.9 1413.4 L517.2 1412.7 L521.5 1411.9 L525.8 1411.2 L530.1 1410.6 L534.4 1409.9 L538.7 1409.2 L543.0 1408.6 L547.3 1408.0 L551.5 1407.4 L555.8 1406.8 L560.1 1406.2 L564.4 1405.6 L568.7 1405.0 L573.0 1404.5 L577.3 1403.9 L581.6 1403.4 L585.9 1402.9 L590.2 1402.4 L594.6 1401.8 L598.9 1401.3 L603.2 1400.8 L607.5 1400.4 L611.8 1399.9 L616.1 1399.4 L620.4 1399.0 L624.7 1398.5 L629.1 1398.1 L633.4 1397.6 L637.7 1397.2 L642.0 1396.8 L646.3 1396.4 L650.6 1396.0 L654.9 1395.6 L659.2 1395.2 L663.6 1394.8 L667.9 1394.4 L672.2 1394.1 L676.5 1393.7 L680.8 1393.4 L685.1 1393.0 L689.4 1392.7 L693.7 1392.3 L698.0 1392.0 L702.4 1391.7 L706.7 1391.4 L711.0 1391.1 L715.3 1390.8 L719.6 1390.5 L723.9 1390.2 L728.2 1389.9 L732.5 1389.7 L736.9 1389.4 L741.2 1389.1 L745.5 1388.9 L749.8 1388.6 L754.1 1388.4 L758.4 1388.2 L762.7 1387.9 L767.0 1387.7 L771.4 1387.5 L775.7 1387.3 L780.0 1387.1 L784.3 1386.9 L788.6 1386.7 L792.9 1386.5 L797.3 1386.3 L801.6 1386.1 L805.9 1385.9 L810.2 1385.7 L814.6 1385.6 L818.9 1385.4 L823.2 1385.2 L827.6 1385.1 L831.9 1384.9 L836.2 1384.8 L840.5 1384.6 L844.9 1384.5 L849.2 1384.4 L853.5 1384.2 L857.8 1384.1 L862.2 1384.0 L866.5 1383.9 L870.8 1383.7 L875.2 1383.6 L879.5 1383.5 L883.8 1383.4 L888.1 1383.3 L892.5 1383.2 L896.8 1383.1 L901.1 1383.0 L905.5 1382.9 L909.8 1382.8 L914.1 1382.7 L918.4 1382.7 L922.8 1382.6 L927.1 1382.5 L931.4 1382.4 L935.8 1382.4 L940.1 1382.3 L944.4 1382.2 L948.7 1382.1 L953.1 1382.1 L957.4 1382.0 L961.7 1382.0 L966.0 1381.9 L970.4 1381.8 L974.7 1381.8 L979.0 1381.7 L983.4 1381.7 L987.7 1381.6 L992.0 1381.6 L996.3 1381.5 L1000.7 1381.5 L1005.0 1381.4 L1009.3 1381.4 L1013.6 1381.3 L1018.0 1381.3 L1022.3 1381.2 L1026.6 1381.2 L1030.9 1381.1 L1035.2 1381.1 L1039.6 1381.1 L1043.9 1381.0 L1048.2 1381.0 L1052.5 1380.9 L1056.8 1380.9 L1061.2 1380.9 L1065.5 1380.8 L1069.8 1380.8 L1074.1 1380.7 L1078.4 1380.7 L1082.8 1380.6 L1087.1 1380.6 L1091.4 1380.5 L1095.7 1380.5 L1100.0 1380.5 L1104.4 1380.4 L1108.7 1380.4 L1113.0 1380.3 L1117.3 1380.3 L1121.6 1380.2 L1126.0 1380.2 L1130.3 1380.1 L1134.6 1380.1 L1138.9 1380.0 L1143.2 1379.9 L1147.6 1379.9 L1151.9 1379.8 L1156.2 1379.8 L1160.5 1379.7 L1164.8 1379.6 L1169.2 1379.6 L1173.5 1379.5 L1177.8 1379.4 L1182.1 1379.3 L1186.4 1379.3 L1190.8 1379.2 L1195.1 1379.1 L1199.4 1379.0 L1203.7 1378.9 L1208.0 1378.8 L1212.4 1378.7 L1216.7 1378.6 L1221.0 1378.5 L1225.3 1378.4 L1229.6 1378.3 L1233.9 1378.2 L1238.2 1378.1 L1242.6 1378.0 L1246.9 1377.9 L1251.2 1377.7 L1255.5 1377.6 L1259.8 1377.5 L1264.1 1377.3" stroke="#1fae38"/>
<path d="M143.2 1649.7 L147.5 1640.6 L151.8 1631.7 L156.1 1622.8 L160.4 1614.0 L164.7 1605.3 L169.0 1596.6 L173.3 1588.1 L177.6 1579.6 L182.0 1571.2 L186.3 1562.9 L190.6 1554.7 L194.9 1546.7 L199.2 1538.7 L203.5 1530.9 L207.8 1523.2 L212.1 1515.6 L216.4 1508.2 L220.7 1500.9 L225.0 1493.8 L229.3 1486.8 L233.6 1479.9 L237.9 1473.2 L242.2 1466.7 L246.5 1460.3 L250.8 1454.1 L255.2 1448.1 L259.5 1442.2 L263.8 1436.5 L268.1 1431.0 L272.4 1425.6 L276.7 1420.4 L281.0 1415.3 L285.3 1410.4 L289.6 1405.6 L293.9 1400.9 L298.2 1396.4 L302.5 1392.0 L306.8 1387.7 L311.1 1383.6 L315.4 1379.6 L319.7 1375.6 L324.1 1371.8 L328.4 1368.1 L332.7 1364.5 L337.0 1361.0 L341.3 1357.5 L345.6 1354.2 L349.9 1350.9 L354.2 1347.7 L358.5 1344.5 L362.8 1341.5 L367.1 1338.5 L371.4 1335.5 L375.7 1332.7 L379.9 1329.8 L384.2 1327.1 L388.5 1324.4 L392.8 1321.8 L397.1 1319.2 L401.4 1316.7 L405.7 1314.3 L410.0 1311.9 L414.3 1309.6 L418.6 1307.4 L422.9 1305.2 L427.1 1303.1 L431.4 1301.0 L435.7 1298.9 L440.0 1296.9 L444.3 1295.0 L448.6 1293.1 L452.9 1291.2 L457.2 1289.4 L461.5 1287.6 L465.8 1285.9 L470.0 1284.2 L474.3 1282.5 L478.6 1280.9 L482.9 1279.3 L487.2 1277.7 L491.5 1276.2 L495.8 1274.7 L500.1 1273.3 L504.4 1271.8 L508.6 1270.5 L512.9 1269.1 L517.2 1267.8 L521.5 1266.5 L525.8 1265.2 L530.1 1263.9 L534.4 1262.7 L538.7 1261.5 L543.0 1260.3 L547.3 1259.2 L551.5 1258.0 L555.8 1256.9 L560.1 1255.8 L564.4 1254.7 L568.7 1253.7 L573.0 1252.6 L577.3 1251.6 L581.6 1250.6 L585.9 1249.5 L590.2 1248.5 L594.6 1247.5 L598.9 1246.5 L603.2 1245.5 L607.5 1244.6 L611.8 1243.6 L616.1 1242.7 L620.4 1241.7 L624.7 1240.8 L629.1 1239.9 L633.4 1239.0 L637.7 1238.1 L642.0 1237.3 L646.3 1236.4 L650.6 1235.6 L654.9 1234.8 L659.2 1234.0 L663.6 1233.2 L667.9 1232.4 L672.2 1231.6 L676.5 1230.9 L680.8 1230.1 L685.1 1229.4 L689.4 1228.7 L693.7 1228.0 L698.0 1227.3 L702.4 1226.6 L706.7 1225.9 L711.0 1225.3 L715.3 1224.6 L719.6 1224.0 L723.9 1223.4 L728.2 1222.7 L732.5 1222.1 L736.9 1221.6 L741.2 1221.0 L745.5 1220.4 L749.8 1219.8 L754.1 1219.3 L758.4 1218.8 L762.7 1218.2 L767.0 1217.7 L771.4 1217.2 L775.7 1216.7 L780.0 1216.2 L784.3 1215.7 L788.6 1215.3 L792.9 1214.8 L797.3 1214.4 L801.6 1213.9 L805.9 1213.5 L810.2 1213.1 L814.6 1212.7 L818.9 1212.3 L823.2 1211.9 L827.6 1211.5 L831.9 1211.1 L836.2 1210.7 L840.5 1210.4 L844.9 1210.0 L849.2 1209.7 L853.5 1209.3 L857.8 1209.0 L862.2 1208.7 L866.5 1208.3 L870.8 1208.0 L875.2 1207.7 L879.5 1207.4 L883.8 1207.1 L888.1 1206.9 L892.5 1206.6 L896.8 1206.3 L901.1 1206.0 L905.5 1205.8 L909.8 1205.5 L914.1 1205.3 L918.4 1205.1 L922.8 1204.8 L927.1 1204.6 L931.4 1204.4 L935.8 1204.2 L940.1 1203.9 L944.4 1203.7 L948.7 1203.5 L953.1 1203.3 L957.4 1203.2 L961.7 1203.0 L966.0 1202.8 L970.4 1202.6 L974.7 1202.4 L979.0 1202.3 L983.4 1202.1 L987.7 1201.9 L992.0 1201.8 L996.3 1201.6 L1000.7 1201.5 L1005.0 1201.3 L1009.3 1201.2 L1013.6 1201.1 L1018.0 1200.9 L1022.3 1200.8 L1026.6 1200.7 L1030.9 1200.5 L1035.2 1200.4 L1039.6 1200.3 L1043.9 1200.2 L1048.2 1200.1 L1052.5 1199.9 L1056.8 1199.8 L1061.2 1199.7 L1065.5 1199.6 L1069.8 1199.5 L1074.1 1199.4 L1078.4 1199.3 L1082.8 1199.2 L1087.1 1199.1 L1091.4 1199.0 L1095.7 1198.9 L1100.0 1198.8 L1104.4 1198.7 L1108.7 1198.6 L1113.0 1198.5 L1117.3 1198.4 L1121.6 1198.3 L1126.0 1198.2 L1130.3 1198.1 L1134.6 1198.0 L1138.9 1197.9 L1143.2 1197.8 L1147.6 1197.7 L1151.9 1197.6 L1156.2 1197.5 L1160.5 1197.4 L1164.8 1197.3 L1169.2 1197.2 L1173.5 1197.1 L1177.8 1197.0 L1182.1 1196.9 L1186.4 1196.8 L1190.8 1196.7 L1195.1 1196.6 L1199.4 1196.5 L1203.7 1196.3 L1208.0 1196.2 L1212.4 1196.1 L1216.7 1196.0 L1221.0 1195.9 L1225.3 1195.7 L1229.6 1195.6 L1233.9 1195.5 L1238.2 1195.3 L1242.6 1195.2 L1246.9 1195.0 L1251.2 1194.9 L1255.5 1194.8 L1259.8 1194.6 L1264.1 1194.4" stroke="#d00000" stroke-dasharray="4.4 5.9"/>
<path d="M143.2 1677.1 L147.5 1669.2 L151.8 1661.4 L156.1 1653.9 L160.4 1646.4 L164.7 1639.2 L169.0 1632.0 L173.3 1625.1 L177.6 1618.3 L182.0 1611.6 L186.3 1605.1 L190.6 1598.8 L194.9 1592.5 L199.2 1586.4 L203.5 1580.4 L207.8 1574.6 L212.1 1568.9 L216.4 1563.4 L220.7 1557.9 L225.0 1552.6 L229.3 1547.5 L233.6 1542.4 L237.9 1537.5 L242.2 1532.7 L246.5 1528.0 L250.8 1523.4 L255.2 1518.9 L259.5 1514.6 L263.8 1510.3 L268.1 1506.2 L272.4 1502.1 L276.7 1498.2 L281.0 1494.3 L285.3 1490.6 L289.6 1486.9 L293.9 1483.4 L298.2 1479.9 L302.5 1476.5 L306.8 1473.2 L311.1 1470.0 L315.4 1466.8 L319.7 1463.7 L324.1 1460.7 L328.4 1457.8 L332.7 1455.0 L337.0 1452.2 L341.3 1449.5 L345.6 1446.8 L349.9 1444.2 L354.2 1441.7 L358.5 1439.2 L362.8 1436.8 L367.1 1434.4 L371.4 1432.1 L375.7 1429.8 L379.9 1427.6 L384.2 1425.4 L388.5 1423.3 L392.8 1421.3 L397.1 1419.2 L401.4 1417.3 L405.7 1415.3 L410.0 1413.4 L414.3 1411.6 L418.6 1409.8 L422.9 1408.0 L427.1 1406.3 L431.4 1404.6 L435.7 1403.0 L440.0 1401.4 L444.3 1399.8 L448.6 1398.3 L452.9 1396.8 L457.2 1395.4 L461.5 1393.9 L465.8 1392.6 L470.0 1391.2 L474.3 1389.9 L478.6 1388.6 L482.9 1387.3 L487.2 1386.1 L491.5 1384.9 L495.8 1383.8 L500.1 1382.6 L504.4 1381.5 L508.6 1380.4 L512.9 1379.4 L517.2 1378.3 L521.5 1377.3 L525.8 1376.3 L530.1 1375.3 L534.4 1374.4 L538.7 1373.4 L543.0 1372.5 L547.3 1371.6 L551.5 1370.8 L555.8 1369.9 L560.1 1369.0 L564.4 1368.2 L568.7 1367.4 L573.0 1366.6 L577.3 1365.8 L581.6 1365.0 L585.9 1364.2 L590.2 1363.5 L594.6 1362.7 L598.9 1362.0 L603.2 1361.2 L607.5 1360.5 L611.8 1359.8 L616.1 1359.1 L620.4 1358.4 L624.7 1357.8 L629.1 1357.1 L633.4 1356.4 L637.7 1355.8 L642.0 1355.2 L646.3 1354.5 L650.6 1353.9 L654.9 1353.3 L659.2 1352.7 L663.6 1352.2 L667.9 1351.6 L672.2 1351.0 L676.5 1350.5 L680.8 1349.9 L685.1 1349.4 L689.4 1348.9 L693.7 1348.4 L698.0 1347.9 L702.4 1347.4 L706.7 1346.9 L711.0 1346.4 L715.3 1345.9 L719.6 1345.5 L723.9 1345.0 L728.2 1344.6 L732.5 1344.2 L736.9 1343.7 L741.2 1343.3 L745.5 1342.9 L749.8 1342.5 L754.1 1342.1 L758.4 1341.7 L762.7 1341.3 L767.0 1341.0 L771.4 1340.6 L775.7 1340.3 L780.0 1339.9 L784.3 1339.6 L788.6 1339.2 L792.9 1338.9 L797.3 1338.6 L801.6 1338.3 L805.9 1338.0 L810.2 1337.7 L814.6 1337.4 L818.9 1337.1 L823.2 1336.8 L827.6 1336.5 L831.9 1336.3 L836.2 1336.0 L840.5 1335.7 L844.9 1335.5 L849.2 1335.3 L853.5 1335.0 L857.8 1334.8 L862.2 1334.6 L866.5 1334.3 L870.8 1334.1 L875.2 1333.9 L879.5 1333.7 L883.8 1333.5 L888.1 1333.3 L892.5 1333.1 L896.8 1332.9 L901.1 1332.7 L905.5 1332.6 L909.8 1332.4 L914.1 1332.2 L918.4 1332.1 L922.8 1331.9 L927.1 1331.7 L931.4 1331.6 L935.8 1331.4 L940.1 1331.3 L944.4 1331.2 L948.7 1331.0 L953.1 1330.9 L957.4 1330.7 L961.7 1330.6 L966.0 1330.5 L970.4 1330.4 L974.7 1330.3 L979.0 1330.1 L983.4 1330.0 L987.7 1329.9 L992.0 1329.8 L996.3 1329.7 L1000.7 1329.6 L1005.0 1329.5 L1009.3 1329.4 L1013.6 1329.3 L1018.0 1329.2 L1022.3 1329.1 L1026.6 1329.0 L1030.9 1328.9 L1035.2 1328.9 L1039.6 1328.8 L1043.9 1328.7 L1048.2 1328.6 L1052.5 1328.5 L1056.8 1328.4 L1061.2 1328.4 L1065.5 1328.3 L1069.8 1328.2 L1074.1 1328.1 L1078.4 1328.1 L1082.8 1328.0 L1087.1 1327.9 L1091.4 1327.8 L1095.7 1327.8 L1100.0 1327.7 L1104.4 1327.6 L1108.7 1327.5 L1113.0 1327.5 L1117.3 1327.4 L1121.6 1327.3 L1126.0 1327.2 L1130.3 1327.2 L1134.6 1327.1 L1138.9 1327.0 L1143.2 1326.9 L1147.6 1326.8 L1151.9 1326.8 L1156.2 1326.7 L1160.5 1326.6 L1164.8 1326.5 L1169.2 1326.4 L1173.5 1326.3 L1177.8 1326.3 L1182.1 1326.2 L1186.4 1326.1 L1190.8 1326.0 L1195.1 1325.9 L1199.4 1325.8 L1203.7 1325.7 L1208.0 1325.6 L1212.4 1325.5 L1216.7 1325.4 L1221.0 1325.3 L1225.3 1325.2 L1229.6 1325.0 L1233.9 1324.9 L1238.2 1324.8 L1242.6 1324.7 L1246.9 1324.6 L1251.2 1324.4 L1255.5 1324.3 L1259.8 1324.2 L1264.1 1324.0" stroke="#00c8c8" stroke-dasharray="33 7.5"/>
</g>
<path d="M143.2 1105.9 v12.5 M143.2 1881.9 v-12.5 M358.5 1105.9 v12.5 M358.5 1881.9 v-12.5 M573.0 1105.9 v12.5 M573.0 1881.9 v-12.5 M788.6 1105.9 v12.5 M788.6 1881.9 v-12.5 M1005.0 1105.9 v12.5 M1005.0 1881.9 v-12.5 M1221.0 1105.9 v12.5 M1221.0 1881.9 v-12.5 M143.2 1881.6 h12.5 M1291.2 1881.6 h-12.5 M143.2 1811.3 h12.5 M1291.2 1811.3 h-12.5 M143.2 1740.6 h12.5 M1291.2 1740.6 h-12.5 M143.2 1670.0 h12.5 M1291.2 1670.0 h-12.5 M143.2 1599.5 h12.5 M1291.2 1599.5 h-12.5 M143.2 1528.7 h12.5 M1291.2 1528.7 h-12.5 M143.2 1458.0 h12.5 M1291.2 1458.0 h-12.5 M143.2 1387.4 h12.5 M1291.2 1387.4 h-12.5 M143.2 1317.2 h12.5 M1291.2 1317.2 h-12.5 M143.2 1248.9 h12.5 M1291.2 1248.9 h-12.5 M143.2 1177.7 h12.5 M1291.2 1177.7 h-12.5 M143.2 1107.0 h12.5 M1291.2 1107.0 h-12.5" stroke="#6f6f6f" stroke-width="3" fill="none"/>
<rect x="143.2" y="1105.9" width="1148.0" height="776.0" fill="none" stroke="#6f6f6f" stroke-width="3.6"/>
<path d="M140.8 1107.2 h17.2 M1293.6 1107.2 h-17.2" stroke="#141414" stroke-width="2.6" fill="none"/>
<g font-family="'DejaVu Sans','Liberation Sans',sans-serif" fill="#000"><text x="99.74 116.79" y="1890.60" font-size="25.584">23</text><text x="74.15 91.21 108.27 116.79" y="1820.30" font-size="25.584">23.5</text><text x="99.74 116.79" y="1749.60" font-size="25.584">24</text><text x="74.15 91.21 108.27 116.79" y="1679.00" font-size="25.584">24.5</text><text x="99.74 116.79" y="1608.50" font-size="25.584">25</text><text x="74.15 91.21 108.27 116.79" y="1537.70" font-size="25.584">25.5</text><text x="99.74 116.79" y="1467.00" font-size="25.584">26</text><text x="74.15 91.21 108.27 116.79" y="1396.40" font-size="25.584">26.5</text><text x="99.74 116.79" y="1326.20" font-size="25.584">27</text><text x="74.15 91.21 108.27 116.79" y="1257.90" font-size="25.584">27.5</text><text x="99.74 116.79" y="1186.70" font-size="25.584">28</text><text x="74.15 91.21 108.27 116.79" y="1116.00" font-size="25.584">28.5</text><text x="116.39 133.45 150.50" y="1919.80" font-size="25.584">100</text><text x="335.53 352.58 369.64" y="1919.80" font-size="25.584">200</text><text x="548.85 565.91 582.96" y="1919.80" font-size="25.584">300</text><text x="764.45 781.51 798.56" y="1919.80" font-size="25.584">400</text><text x="980.63 997.68 1014.74" y="1919.80" font-size="25.584">500</text><text x="1196.21 1213.27 1230.33" y="1919.80" font-size="25.584">600</text><text x="333.74 348.66 369.98 387.04 412.62 421.15 429.68 444.60 451.00 468.06 489.38 506.43 523.49 540.54 555.47 572.52 589.58 598.11 613.03 630.09 647.14 655.67 674.86 681.26 698.31 719.63 736.69 745.22 762.27 779.33 796.38 804.91 830.50 839.02" y="1062.70" font-size="25.584">P=3W; Tin=25degC and Uin=0.001 m/s</text><text x="667.07 682.00 688.39 713.98 728.90 737.43 748.09 760.88" y="1954.00" font-size="25.584">Time (s)</text></g>
<g transform="translate(24.3 1682.9) rotate(-90)" font-family="'DejaVu Sans','Liberation Sans',sans-serif" fill="#000"><text x="0.00 17.06 31.98 46.90 57.56 72.49 89.54 104.47 113.00 127.92 142.84 168.43 185.48 200.41 211.07 225.99 236.65 253.71 264.37 279.29 287.82 298.48 317.67 332.59 349.65 366.70" y="0.00" font-size="25.584">Average Temperature (DegC)</text></g>
<rect x="1050.2" y="1397.8" width="206.29999999999995" height="462.29999999999995" fill="#848484"/>
<rect x="1058.0" y="1390.0" width="206.29999999999995" height="462.29999999999995" fill="#fff" stroke="#000" stroke-width="2.2"/>
<path d="M1073.10 1417.0 H1129.93" stroke="#0818e0" stroke-width="3.1" fill="none"/><path d="M1074.32 1457.6 H1128.61" stroke="#16a82a" stroke-width="3.1" stroke-dasharray="3.04 4.26" fill="none"/><path d="M1074.83 1498.3 H1128.00" stroke="#d00000" stroke-width="3.1" stroke-dasharray="23.03 4.67 60" fill="none"/><path d="M1074.72 1538.9 H1129.93" stroke="#00c8c8" stroke-width="3.1" stroke-dasharray="2.54 4.26 23.03 4.36 4.06 4.16 60" fill="none"/><path d="M1073.10 1579.6 H1129.93" stroke="#b000b8" stroke-width="3.1" fill="none"/><path d="M1074.32 1620.2 H1128.61" stroke="#ffb400" stroke-width="3.1" stroke-dasharray="3.04 4.26" fill="none"/><path d="M1074.83 1660.8 H1128.00" stroke="#000000" stroke-width="3.1" stroke-dasharray="23.03 4.67 60" fill="none"/><path d="M1074.72 1701.5 H1129.93" stroke="#0818e0" stroke-width="3.1" stroke-dasharray="2.54 4.26 23.03 4.36 4.06 4.16 60" fill="none"/><path d="M1073.10 1742.1 H1129.93" stroke="#1fae38" stroke-width="3.1" fill="none"/><path d="M1074.32 1782.8 H1128.61" stroke="#d00000" stroke-width="3.1" stroke-dasharray="3.04 4.26" fill="none"/><path d="M1074.83 1823.4 H1128.00" stroke="#00c8c8" stroke-width="3.1" stroke-dasharray="23.03 4.67 60" fill="none"/>
<g font-family="'DejaVu Sans','Liberation Sans',sans-serif" fill="#000"><text x="1143.76 1160.82 1175.74 1188.54 1203.46 1211.99" y="1428.20" font-size="25.584">Case 1</text><text x="1143.76 1160.82 1175.74 1188.54 1203.46 1211.99" y="1468.84" font-size="25.584">Case 2</text><text x="1143.76 1160.82 1175.74 1188.54 1203.46 1211.99" y="1509.48" font-size="25.584">Case 3</text><text x="1143.76 1160.82 1175.74 1188.54 1203.46 1211.99" y="1550.12" font-size="25.584">Case 4</text><text x="1143.76 1160.82 1175.74 1188.54 1203.46 1211.99" y="1590.76" font-size="25.584">Case 5</text><text x="1143.76 1160.82 1175.74 1188.54 1203.46 1211.99" y="1631.40" font-size="25.584">Case 6</text><text x="1143.76 1160.82 1175.74 1188.54 1203.46 1211.99" y="1672.04" font-size="25.584">Case 7</text><text x="1143.76 1160.82 1175.74 1188.54 1203.46 1211.99" y="1712.68" font-size="25.584">Case 8</text><text x="1143.76 1160.82 1175.74 1188.54 1203.46 1211.99" y="1753.32" font-size="25.584">Case 9</text><text x="1143.76 1160.82 1175.74 1188.54 1203.46 1211.99 1229.04" y="1793.96" font-size="25.584">Case 10</text><text x="1143.76 1160.82 1175.74 1188.54 1203.46 1211.99 1229.04" y="1834.60" font-size="25.584">Case 11</text></g>
<g transform="translate(1257.8 1026.2) scale(0.9797 1.0400)">
<defs>
<linearGradient id="ibb" x1="0" y1="0" x2="1" y2="0"><stop offset="0" stop-color="#7a9cec"/><stop offset="0.08" stop-color="#4a70dc"/><stop offset="0.16" stop-color="#1c3cb8"/><stop offset="0.6" stop-color="#2448c0"/><stop offset="0.88" stop-color="#06188a"/><stop offset="1" stop-color="#3a5cc8"/></linearGradient>
<linearGradient id="iib" x1="0" y1="0" x2="1" y2="0"><stop offset="0" stop-color="#f6f08a"/><stop offset="0.28" stop-color="#ffe840"/><stop offset="0.5" stop-color="#a8d890"/><stop offset="0.68" stop-color="#58a8f0"/><stop offset="1" stop-color="#1a48c8"/></linearGradient>
<linearGradient id="ivb" x1="0" y1="0" x2="0" y2="1"><stop offset="0" stop-color="#1838b0" stop-opacity="0.55"/><stop offset="0.18" stop-color="#1838b0" stop-opacity="0"/><stop offset="0.8" stop-color="#0a2090" stop-opacity="0"/><stop offset="1" stop-color="#0a2090" stop-opacity="0.6"/></linearGradient>
<filter id="ihb" x="-50%" y="-50%" width="200%" height="200%"><feGaussianBlur stdDeviation="2.6"/></filter>
</defs>
<rect x="-5" y="-4" width="40" height="32" rx="7" fill="#d4d4d4" opacity="0.45" filter="url(#ihb)"/>
<rect x="-0.8" y="-0.8" width="31.2" height="24.1" rx="4.5" fill="#fffdf2"/>
<rect x="0" y="0" width="29.6" height="22.5" rx="4" fill="url(#ibb)"/>
<rect x="5.9" y="3.0" width="20.8" height="16.6" fill="url(#iib)"/>
<path d="M5.9 4.5 L15.5 11.2 L5.9 18.2 Z" fill="#ffe438" opacity="0.85"/>
<rect x="14.5" y="12.6" width="12.2" height="2.6" fill="#4cc0ff" opacity="0.8"/>
<rect x="5.9" y="3.0" width="20.8" height="16.6" fill="url(#ivb)"/>
</g>
<text x="643.3" y="2006.3" text-anchor="middle" font-family="'Liberation Serif','Times New Roman',serif" font-size="47" fill="#000" stroke="#000" stroke-width="0.5">(b)</text>
</svg>
</body></html>
